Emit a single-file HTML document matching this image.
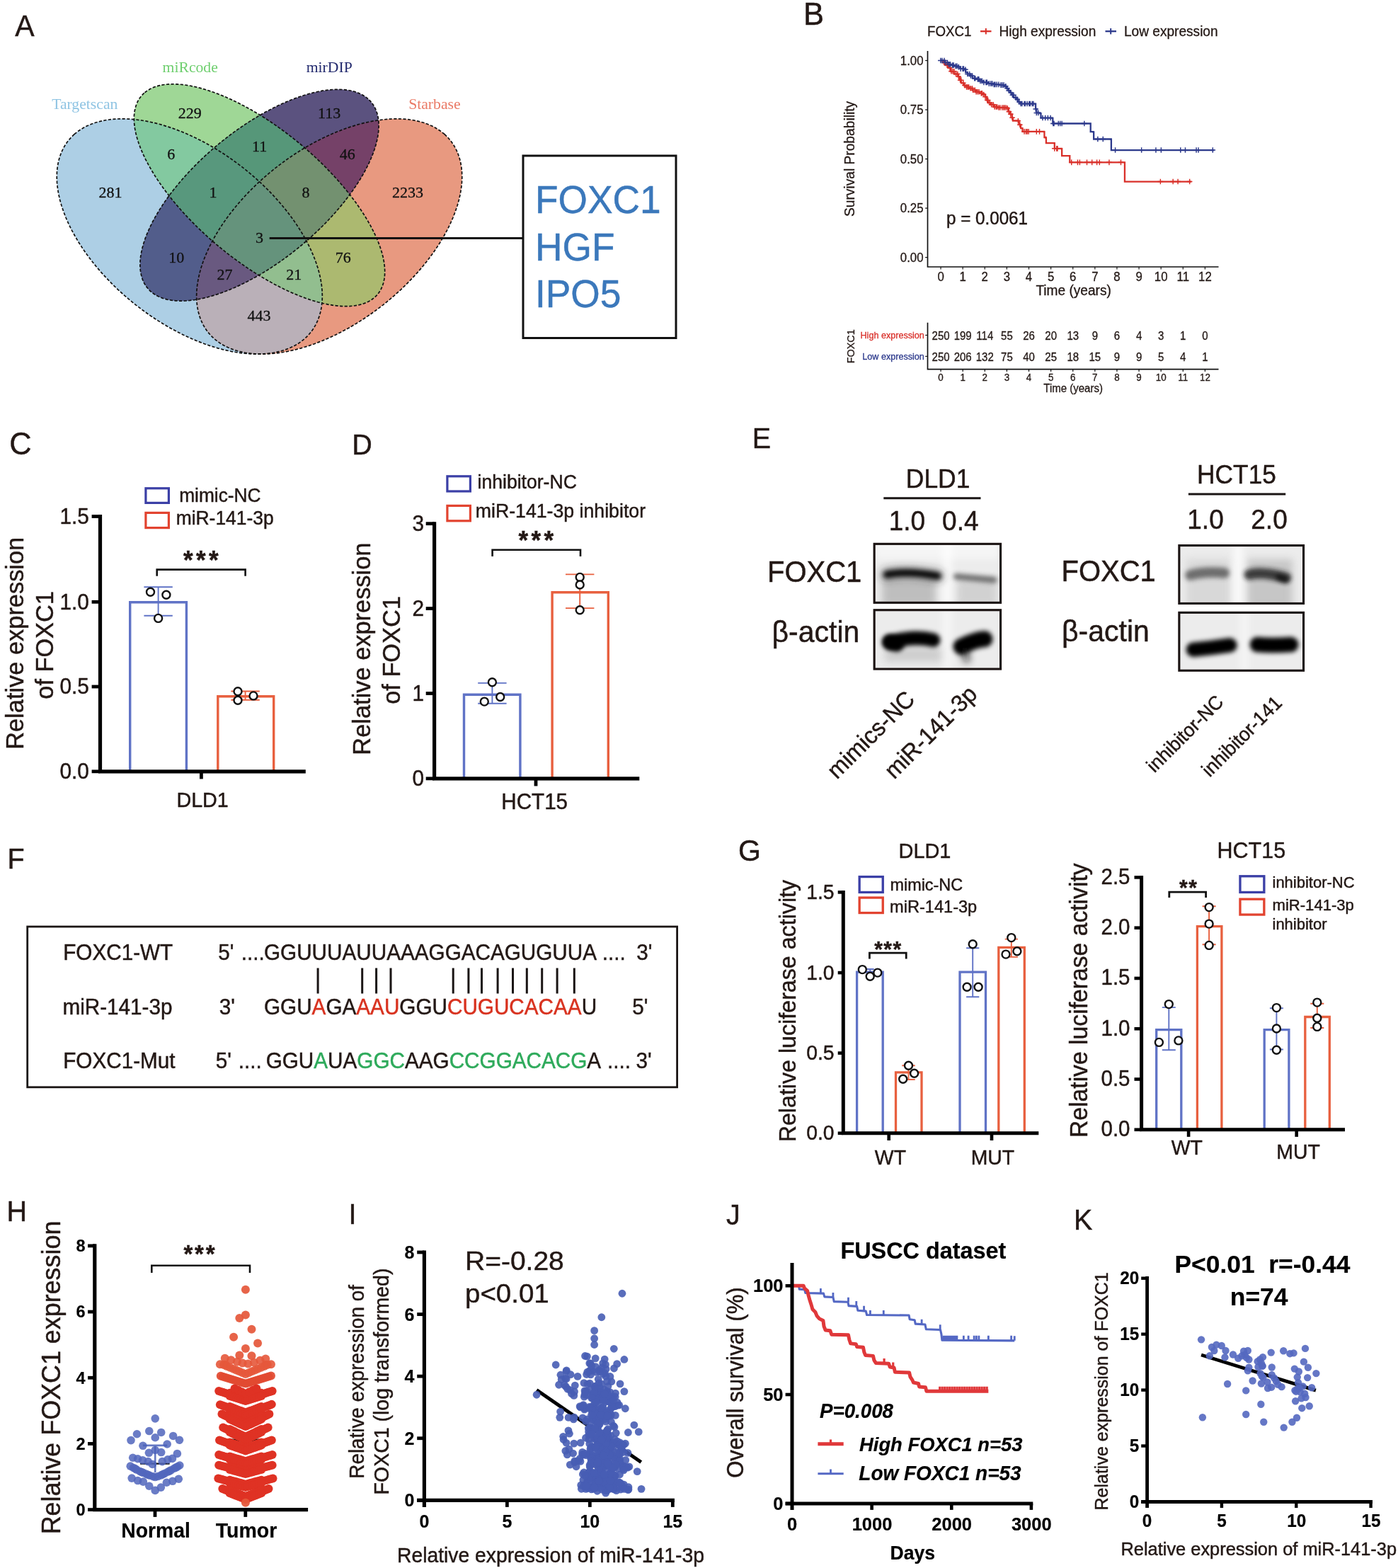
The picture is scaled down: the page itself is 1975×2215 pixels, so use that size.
<!DOCTYPE html>
<html lang="en">
<head>
<meta charset="utf-8">
<title>Figure: miR-141-3p targets FOXC1</title>
<style>
html,body{margin:0;padding:0;background:#fff;}
body{width:1975px;height:2215px;overflow:hidden;}
svg{display:block;font-family:"Liberation Sans",Arial,Helvetica,sans-serif;fill:#231815;}

</style>
</head>
<body>
<svg width="1975" height="2215" viewBox="0 0 1975 2215">
<rect x="0" y="0" width="1975" height="2215" fill="#ffffff" stroke="none"/>
<g id="p-a">
<text transform="translate(21.3 51.4) scale(1 1.04)" font-size="41" stroke="#231815" stroke-width="0.45">A</text>
<defs>
<path id="eT" d="M104.95 189.71L100.31 194.23L96.12 199.12L92.4 204.39L89.16 210.01L86.42 215.97L84.17 222.25L82.42 228.85L81.18 235.72L80.46 242.87L80.24 250.27L80.54 257.9L81.36 265.73L82.68 273.76L84.52 281.94L86.85 290.27L89.68 298.73L93 307.27L96.8 315.89L101.06 324.56L105.79 333.26L110.96 341.96L116.55 350.63L122.57 359.27L128.98 367.83L135.77 376.3L142.92 384.65L150.42 392.86L158.23 400.92L166.35 408.78L174.74 416.45L183.4 423.89L192.28 431.08L201.37 438L210.64 444.65L220.06 450.98L229.62 457L239.28 462.68L249.03 468.01L258.82 472.97L268.64 477.55L278.45 481.73L288.24 485.51L297.97 488.88L307.61 491.82L317.15 494.33L326.55 496.39L335.79 498.02L344.85 499.19L353.69 499.91L362.3 500.18L370.65 499.99L378.72 499.35L386.48 498.25L393.92 496.7L401.01 494.71L407.74 492.27L414.08 489.41L420.03 486.11L425.55 482.4L430.65 478.29L435.29 473.77L439.48 468.88L443.2 463.61L446.44 457.99L449.18 452.03L451.43 445.75L453.18 439.15L454.42 432.28L455.14 425.13L455.36 417.73L455.06 410.1L454.24 402.27L452.92 394.24L451.08 386.06L448.75 377.73L445.92 369.27L442.6 360.73L438.8 352.11L434.54 343.44L429.81 334.74L424.64 326.04L419.05 317.37L413.03 308.73L406.62 300.17L399.83 291.7L392.68 283.35L385.18 275.14L377.37 267.08L369.25 259.22L360.86 251.55L352.2 244.11L343.32 236.92L334.23 230L324.96 223.35L315.54 217.02L305.98 211L296.32 205.32L286.57 199.99L276.78 195.03L266.96 190.45L257.15 186.27L247.36 182.49L237.63 179.12L227.99 176.18L218.45 173.68L209.05 171.61L199.81 169.98L190.75 168.81L181.91 168.09L173.3 167.82L164.95 168.01L156.88 168.65L149.12 169.75L141.68 171.3L134.59 173.29L127.86 175.73L121.52 178.59L115.57 181.89L110.05 185.6Z"/>
<clipPath id="cT"><use href="#eT"/></clipPath>
<path id="eM" d="M203.65 131.41L200.22 134.85L197.25 138.67L194.74 142.86L192.7 147.42L191.14 152.34L190.06 157.59L189.46 163.16L189.35 169.04L189.72 175.21L190.57 181.66L191.91 188.37L193.73 195.32L196.02 202.48L198.78 209.85L202 217.4L205.67 225.11L209.78 232.95L214.32 240.92L219.28 248.98L224.64 257.11L230.38 265.29L236.51 273.5L242.99 281.72L249.8 289.92L256.94 298.09L264.38 306.19L272.09 314.2L280.07 322.12L288.28 329.9L296.71 337.54L305.33 345L314.11 352.28L323.04 359.35L332.09 366.18L341.23 372.77L350.45 379.1L359.7 385.14L368.98 390.88L378.25 396.3L387.48 401.39L396.66 406.14L405.76 410.54L414.74 414.56L423.6 418.2L432.3 421.45L440.82 424.3L449.13 426.75L457.22 428.78L465.06 430.39L472.63 431.57L479.91 432.33L486.88 432.66L493.52 432.56L499.81 432.03L505.73 431.07L511.28 429.69L516.42 427.88L521.16 425.66L525.47 423.02L529.35 419.99L532.78 416.55L535.75 412.73L538.26 408.54L540.3 403.98L541.86 399.06L542.94 393.81L543.54 388.24L543.65 382.36L543.28 376.19L542.43 369.74L541.09 363.03L539.27 356.08L536.98 348.92L534.22 341.55L531 334L527.33 326.29L523.22 318.45L518.68 310.48L513.72 302.42L508.36 294.29L502.62 286.11L496.49 277.9L490.01 269.68L483.2 261.48L476.06 253.31L468.62 245.21L460.91 237.2L452.93 229.28L444.72 221.5L436.29 213.86L427.67 206.4L418.89 199.12L409.96 192.05L400.91 185.22L391.77 178.63L382.55 172.3L373.3 166.26L364.02 160.52L354.75 155.1L345.52 150.01L336.34 145.26L327.24 140.86L318.26 136.84L309.4 133.2L300.7 129.95L292.18 127.1L283.87 124.65L275.78 122.62L267.94 121.01L260.37 119.83L253.09 119.07L246.12 118.74L239.48 118.84L233.19 119.37L227.27 120.33L221.72 121.71L216.58 123.52L211.84 125.74L207.53 128.38Z"/>
<clipPath id="cM"><use href="#eM"/></clipPath>
<path id="eD" d="M520.04 139.66L516.18 136.61L511.9 133.94L507.23 131.66L502.18 129.78L496.75 128.29L490.96 127.21L484.83 126.54L478.38 126.27L471.62 126.41L464.57 126.97L457.26 127.93L449.7 129.29L441.9 131.06L433.9 133.23L425.72 135.78L417.37 138.72L408.89 142.03L400.29 145.71L391.59 149.75L382.83 154.13L374.02 158.84L365.19 163.88L356.37 169.22L347.57 174.85L338.83 180.76L330.16 186.93L321.59 193.34L313.14 199.98L304.84 206.83L296.71 213.86L288.77 221.07L281.04 228.42L273.55 235.91L266.31 243.5L259.35 251.18L252.68 258.93L246.32 266.72L240.29 274.54L234.61 282.36L229.29 290.17L224.34 297.93L219.79 305.64L215.64 313.26L211.9 320.78L208.58 328.17L205.7 335.42L203.25 342.51L201.26 349.41L199.72 356.11L198.63 362.6L198.01 368.84L197.85 374.83L198.15 380.54L198.91 385.97L200.13 391.1L201.8 395.91L203.93 400.39L206.5 404.53L209.52 408.32L212.96 411.74L216.82 414.79L221.1 417.46L225.77 419.74L230.82 421.62L236.25 423.11L242.04 424.19L248.17 424.86L254.62 425.13L261.38 424.99L268.43 424.43L275.74 423.47L283.3 422.11L291.1 420.34L299.1 418.17L307.28 415.62L315.63 412.68L324.11 409.37L332.71 405.69L341.41 401.65L350.17 397.27L358.98 392.56L367.81 387.52L376.63 382.18L385.43 376.55L394.17 370.64L402.84 364.47L411.41 358.06L419.86 351.42L428.16 344.57L436.29 337.54L444.23 330.33L451.96 322.98L459.45 315.49L466.69 307.9L473.65 300.22L480.32 292.47L486.68 284.68L492.71 276.86L498.39 269.04L503.71 261.23L508.66 253.47L513.21 245.76L517.36 238.14L521.1 230.62L524.42 223.23L527.3 215.98L529.75 208.89L531.74 201.99L533.28 195.29L534.37 188.8L534.99 182.56L535.15 176.57L534.85 170.86L534.09 165.43L532.87 160.3L531.2 155.49L529.07 151.01L526.5 146.87L523.48 143.08Z"/>
<clipPath id="cD"><use href="#eD"/></clipPath>
<path id="eS" d="M628.05 189.71L622.95 185.6L617.43 181.89L611.48 178.59L605.14 175.73L598.41 173.29L591.32 171.3L583.88 169.75L576.12 168.65L568.05 168.01L559.7 167.82L551.09 168.09L542.25 168.81L533.19 169.98L523.95 171.61L514.55 173.67L505.01 176.18L495.37 179.12L485.64 182.49L475.85 186.27L466.04 190.45L456.22 195.03L446.43 199.99L436.68 205.32L427.02 211L417.46 217.02L408.04 223.35L398.77 230L389.68 236.92L380.8 244.11L372.14 251.55L363.75 259.22L355.63 267.08L347.82 275.14L340.32 283.35L333.17 291.7L326.38 300.17L319.97 308.73L313.95 317.37L308.36 326.04L303.19 334.74L298.46 343.44L294.2 352.11L290.4 360.73L287.08 369.27L284.25 377.72L281.92 386.06L280.08 394.24L278.76 402.27L277.94 410.1L277.64 417.73L277.86 425.13L278.58 432.28L279.82 439.15L281.57 445.75L283.82 452.03L286.56 457.99L289.8 463.61L293.52 468.88L297.71 473.77L302.35 478.29L307.45 482.4L312.97 486.11L318.92 489.41L325.26 492.27L331.99 494.71L339.08 496.7L346.52 498.25L354.28 499.35L362.35 499.99L370.7 500.18L379.31 499.91L388.15 499.19L397.21 498.02L406.45 496.39L415.85 494.33L425.39 491.82L435.03 488.88L444.76 485.51L454.55 481.73L464.36 477.55L474.18 472.97L483.97 468.01L493.72 462.68L503.38 457L512.94 450.98L522.36 444.65L531.63 438L540.72 431.08L549.6 423.89L558.26 416.45L566.65 408.78L574.77 400.92L582.58 392.86L590.08 384.65L597.23 376.3L604.02 367.83L610.43 359.27L616.45 350.63L622.04 341.96L627.21 333.26L631.94 324.56L636.2 315.89L640 307.27L643.32 298.73L646.15 290.28L648.48 281.94L650.32 273.76L651.64 265.73L652.46 257.9L652.76 250.27L652.54 242.87L651.82 235.72L650.58 228.85L648.83 222.25L646.58 215.97L643.84 210.01L640.6 204.39L636.88 199.12L632.69 194.23Z"/>
<clipPath id="cS"><use href="#eS"/></clipPath>
</defs>
<use href="#eT" fill="#adcfe5"/>
<use href="#eS" fill="#e89980"/>
<use href="#eM" fill="#9fd796"/>
<use href="#eD" fill="#5b527f"/>
<g clip-path="url(#cS)"><use href="#eT" fill="#bab0b8"/></g>
<g clip-path="url(#cM)"><use href="#eT" fill="#83c9a0"/></g>
<g clip-path="url(#cD)"><use href="#eT" fill="#525d8b"/></g>
<g clip-path="url(#cS)"><use href="#eM" fill="#acb970"/></g>
<g clip-path="url(#cS)"><use href="#eD" fill="#754168"/></g>
<g clip-path="url(#cD)"><use href="#eM" fill="#569779"/></g>
<g clip-path="url(#cS)"><g clip-path="url(#cM)"><use href="#eT" fill="#92be8f"/></g></g>
<g clip-path="url(#cS)"><g clip-path="url(#cD)"><use href="#eT" fill="#695980"/></g></g>
<g clip-path="url(#cD)"><g clip-path="url(#cM)"><use href="#eT" fill="#58987d"/></g></g>
<g clip-path="url(#cS)"><g clip-path="url(#cD)"><use href="#eM" fill="#739170"/></g></g>
<g clip-path="url(#cS)"><g clip-path="url(#cD)"><g clip-path="url(#cM)"><use href="#eT" fill="#65937c"/></g></g></g>
<use href="#eT" fill="none" stroke="#111" stroke-width="1.7" stroke-dasharray="4.2 2.4"/>
<use href="#eS" fill="none" stroke="#111" stroke-width="1.7" stroke-dasharray="4.2 2.4"/>
<use href="#eM" fill="none" stroke="#111" stroke-width="1.7" stroke-dasharray="4.2 2.4"/>
<use href="#eD" fill="none" stroke="#111" stroke-width="1.7" stroke-dasharray="4.2 2.4"/>
<g font-family='"Liberation Serif", "Times New Roman", serif' font-size="21.7" text-anchor="middle">
<text x="268.7" y="101.8" font-size="21.7" fill="#6fcf6f" font-family='"Liberation Serif", "Times New Roman", serif'>miRcode</text>
<text x="465.2" y="101.8" font-size="21.7" fill="#232a6e" font-family='"Liberation Serif", "Times New Roman", serif'>mirDIP</text>
<text x="119.8" y="153.8" font-size="21.7" fill="#8fc4e3" font-family='"Liberation Serif", "Times New Roman", serif'>Targetscan</text>
<text x="613.9" y="153.8" font-size="21.7" fill="#ea7a66" font-family='"Liberation Serif", "Times New Roman", serif'>Starbase</text>
</g>
<g font-family='"Liberation Serif", "Times New Roman", serif' text-anchor="middle" fill="#111">
<text x="268.2" y="166.8" font-size="22" stroke="#111" stroke-width="0.3">229</text>
<text x="465.1" y="166.8" font-size="22" stroke="#111" stroke-width="0.3">113</text>
<text x="241.8" y="225.2" font-size="22" stroke="#111" stroke-width="0.3">6</text>
<text x="366.6" y="213.6" font-size="22" stroke="#111" stroke-width="0.3">11</text>
<text x="490.8" y="225.2" font-size="22" stroke="#111" stroke-width="0.3">46</text>
<text x="156" y="278.6" font-size="22" stroke="#111" stroke-width="0.3">281</text>
<text x="300.9" y="278.6" font-size="22" stroke="#111" stroke-width="0.3">1</text>
<text x="432" y="278.6" font-size="22" stroke="#111" stroke-width="0.3">8</text>
<text x="575.9" y="278.6" font-size="22" stroke="#111" stroke-width="0.3">2233</text>
<text x="366.6" y="342.6" font-size="22" stroke="#111" stroke-width="0.3">3</text>
<text x="249.2" y="371.1" font-size="22" stroke="#111" stroke-width="0.3">10</text>
<text x="484.8" y="371.1" font-size="22" stroke="#111" stroke-width="0.3">76</text>
<text x="317.4" y="394.7" font-size="22" stroke="#111" stroke-width="0.3">27</text>
<text x="415.2" y="394.7" font-size="22" stroke="#111" stroke-width="0.3">21</text>
<text x="366" y="452.7" font-size="22" stroke="#111" stroke-width="0.3">443</text>
</g>
<line x1="380.7" y1="336.5" x2="739" y2="336.5" stroke="#111" stroke-width="3.2"/>
<rect x="739" y="220" width="216" height="257.5" fill="none" stroke="#111" stroke-width="3"/>
<text transform="translate(756 301) scale(1 1.04)" font-size="53.3" fill="#3b78bb" stroke="#3b78bb" stroke-width="0.45">FOXC1</text>
<text transform="translate(756 367.5) scale(1 1.04)" font-size="53.3" fill="#3b78bb" stroke="#3b78bb" stroke-width="0.45">HGF</text>
<text transform="translate(756 434) scale(1 1.04)" font-size="53.3" fill="#3b78bb" stroke="#3b78bb" stroke-width="0.45">IPO5</text>
</g>
<g id="p-b">
<text transform="translate(1135 35) scale(1 1.04)" font-size="43.5" stroke="#231815" stroke-width="0.45">B</text>
<text transform="translate(1310 51.4) scale(1 1.04)" font-size="18.7" stroke="#231815" stroke-width="0.3">FOXC1</text>
<line x1="1385" y1="44.2" x2="1400.5" y2="44.2" stroke="#d9302a" stroke-width="2.3"/>
<line x1="1392.8" y1="40" x2="1392.8" y2="48.4" stroke="#d9302a" stroke-width="2"/>
<text transform="translate(1411.5 51.4) scale(1 1.04)" font-size="19.1" stroke="#231815" stroke-width="0.3">High expression</text>
<line x1="1561.5" y1="44.2" x2="1577" y2="44.2" stroke="#2d3a8c" stroke-width="2.3"/>
<line x1="1569.2" y1="40" x2="1569.2" y2="48.4" stroke="#2d3a8c" stroke-width="2"/>
<text transform="translate(1588 51.4) scale(1 1.04)" font-size="19.1" stroke="#231815" stroke-width="0.3">Low expression</text>
<path d="M1310.5 71.9V377H1721.5" fill="none" stroke="#111" stroke-width="1.7"/>
<line x1="1307.1" y1="363.6" x2="1310.5" y2="363.6" stroke="#111" stroke-width="1.2"/>
<text transform="translate(1304.5 370) scale(1 1.1)" font-size="16.8" text-anchor="end" stroke="#231815" stroke-width="0.3">0.00</text>
<line x1="1307.1" y1="294.08" x2="1310.5" y2="294.08" stroke="#111" stroke-width="1.2"/>
<text transform="translate(1304.5 300.48) scale(1 1.1)" font-size="16.8" text-anchor="end" stroke="#231815" stroke-width="0.3">0.25</text>
<line x1="1307.1" y1="224.55" x2="1310.5" y2="224.55" stroke="#111" stroke-width="1.2"/>
<text transform="translate(1304.5 230.95) scale(1 1.1)" font-size="16.8" text-anchor="end" stroke="#231815" stroke-width="0.3">0.50</text>
<line x1="1307.1" y1="155.03" x2="1310.5" y2="155.03" stroke="#111" stroke-width="1.2"/>
<text transform="translate(1304.5 161.43) scale(1 1.1)" font-size="16.8" text-anchor="end" stroke="#231815" stroke-width="0.3">0.75</text>
<line x1="1307.1" y1="85.5" x2="1310.5" y2="85.5" stroke="#111" stroke-width="1.2"/>
<text transform="translate(1304.5 91.9) scale(1 1.1)" font-size="16.8" text-anchor="end" stroke="#231815" stroke-width="0.3">1.00</text>
<line x1="1329.07" y1="377" x2="1329.07" y2="380.6" stroke="#111" stroke-width="1.2"/>
<text transform="translate(1329.07 397) scale(1 1.1)" font-size="16.8" text-anchor="middle" stroke="#231815" stroke-width="0.3">0</text>
<line x1="1360.18" y1="377" x2="1360.18" y2="380.6" stroke="#111" stroke-width="1.2"/>
<text transform="translate(1360.18 397) scale(1 1.1)" font-size="16.8" text-anchor="middle" stroke="#231815" stroke-width="0.3">1</text>
<line x1="1391.29" y1="377" x2="1391.29" y2="380.6" stroke="#111" stroke-width="1.2"/>
<text transform="translate(1391.29 397) scale(1 1.1)" font-size="16.8" text-anchor="middle" stroke="#231815" stroke-width="0.3">2</text>
<line x1="1422.4" y1="377" x2="1422.4" y2="380.6" stroke="#111" stroke-width="1.2"/>
<text transform="translate(1422.4 397) scale(1 1.1)" font-size="16.8" text-anchor="middle" stroke="#231815" stroke-width="0.3">3</text>
<line x1="1453.51" y1="377" x2="1453.51" y2="380.6" stroke="#111" stroke-width="1.2"/>
<text transform="translate(1453.51 397) scale(1 1.1)" font-size="16.8" text-anchor="middle" stroke="#231815" stroke-width="0.3">4</text>
<line x1="1484.62" y1="377" x2="1484.62" y2="380.6" stroke="#111" stroke-width="1.2"/>
<text transform="translate(1484.62 397) scale(1 1.1)" font-size="16.8" text-anchor="middle" stroke="#231815" stroke-width="0.3">5</text>
<line x1="1515.73" y1="377" x2="1515.73" y2="380.6" stroke="#111" stroke-width="1.2"/>
<text transform="translate(1515.73 397) scale(1 1.1)" font-size="16.8" text-anchor="middle" stroke="#231815" stroke-width="0.3">6</text>
<line x1="1546.84" y1="377" x2="1546.84" y2="380.6" stroke="#111" stroke-width="1.2"/>
<text transform="translate(1546.84 397) scale(1 1.1)" font-size="16.8" text-anchor="middle" stroke="#231815" stroke-width="0.3">7</text>
<line x1="1577.95" y1="377" x2="1577.95" y2="380.6" stroke="#111" stroke-width="1.2"/>
<text transform="translate(1577.95 397) scale(1 1.1)" font-size="16.8" text-anchor="middle" stroke="#231815" stroke-width="0.3">8</text>
<line x1="1609.06" y1="377" x2="1609.06" y2="380.6" stroke="#111" stroke-width="1.2"/>
<text transform="translate(1609.06 397) scale(1 1.1)" font-size="16.8" text-anchor="middle" stroke="#231815" stroke-width="0.3">9</text>
<line x1="1640.17" y1="377" x2="1640.17" y2="380.6" stroke="#111" stroke-width="1.2"/>
<text transform="translate(1640.17 397) scale(1 1.1)" font-size="16.8" text-anchor="middle" stroke="#231815" stroke-width="0.3">10</text>
<line x1="1671.28" y1="377" x2="1671.28" y2="380.6" stroke="#111" stroke-width="1.2"/>
<text transform="translate(1671.28 397) scale(1 1.1)" font-size="16.8" text-anchor="middle" stroke="#231815" stroke-width="0.3">11</text>
<line x1="1702.39" y1="377" x2="1702.39" y2="380.6" stroke="#111" stroke-width="1.2"/>
<text transform="translate(1702.39 397) scale(1 1.1)" font-size="16.8" text-anchor="middle" stroke="#231815" stroke-width="0.3">12</text>
<text transform="translate(1516.6 417.3) scale(1 1.04)" font-size="19.1" text-anchor="middle" stroke="#231815" stroke-width="0.3">Time (years)</text>
<text transform="translate(1207.2 224.5) rotate(-90) scale(1 1.04)" font-size="19.2" text-anchor="middle" stroke="#231815" stroke-width="0.3">Survival Probability</text>
<text transform="translate(1337 317.1) scale(1 1.04)" font-size="24.2" stroke="#231815" stroke-width="0.45">p = 0.0061</text>
<path d="M1329.07 85.47H1332.53V88.43H1335.74V92.14H1339.45V95.85H1343.16V100.8H1348.1V104.51H1353.05V108.21H1355.52V113.16H1357.99V117.36H1361.7V120.58H1365.41V123.05H1369.12V124.78H1374.07V127.25H1379.01V129.73H1383.96V131.7H1388.9V133.43H1391.87V136.65H1393.85V141.59H1396.32V145.3H1400.03V147.77H1403.74V150.99H1408.68V151.98H1422.28V152.72H1424.75V157.66H1427.23V161.37H1429.7V166.32H1430.93V170.52H1438.35V170.77H1439.59V176.21H1442.06V181.15H1444.53V185.85H1474.95V186.1H1475.44V194.01H1477.42V194.75H1477.91V202.17H1489.04V202.17H1489.78V209.84H1499.67V210.08H1500.16V220.22H1510.8V220.22H1511.29V229.37H1588.43V229.37H1588.93V256.57H1683.13V256.57" fill="none" stroke="#d9302a" stroke-width="2.3" stroke-linejoin="miter"/>
<path d="M1329.07 85.47H1333.27V85.47H1334.51V88.43H1339.45V90.91H1343.16V92.14H1348.1V93.38H1353.05V94.62H1356.76V97.09H1361.7V98.32H1364.18V102.03H1366.65V104.51H1370.36V106.98H1374.07V110.69H1379.01V111.92H1383.96V114.4H1388.9V116.37H1396.32V118.1H1403.74V119.34H1411.15V120.08H1418.57V121.81H1422.28V124.78H1424.75V127.99H1427.23V130.96H1429.7V134.18H1432.17V137.88H1435.88V140.36H1438.35V144.07H1442.06V146.54H1462.58V146.54H1463.08V153.96H1464.31V159.4H1469.26V160.14H1470.49V166.57H1486.57V166.81H1487.31V174.48H1540.22V174.48H1540.71V186.1H1544.67V186.59H1545.16V196.48H1569.4V196.73H1569.89V212.06H1715.27V212.06" fill="none" stroke="#2d3a8c" stroke-width="2.3" stroke-linejoin="miter"/>
<path d="M1329.86 88.43h7.6M1333.66 84.63v7.6M1331.68 88.43h7.6M1335.48 84.63v7.6M1334.23 92.14h7.6M1338.03 88.34v7.6M1335.5 92.14h7.6M1339.3 88.34v7.6M1338.17 95.85h7.6M1341.97 92.05v7.6M1340.12 100.8h7.6M1343.92 97v7.6M1342.2 100.8h7.6M1346 97v7.6M1344.12 100.8h7.6M1347.92 97v7.6M1346.79 104.51h7.6M1350.59 100.71v7.6M1349.04 104.51h7.6M1352.84 100.71v7.6M1350.45 108.21h7.6M1354.25 104.41v7.6M1352.83 113.16h7.6M1356.63 109.36v7.6M1354.04 113.16h7.6M1357.84 109.36v7.6M1357.09 117.36h7.6M1360.89 113.56v7.6M1359.11 120.58h7.6M1362.91 116.78v7.6M1361.73 123.05h7.6M1365.53 119.25v7.6M1363.57 123.05h7.6M1367.37 119.25v7.6M1364.88 123.05h7.6M1368.68 119.25v7.6M1367.13 124.78h7.6M1370.93 120.98v7.6M1369.65 124.78h7.6M1373.45 120.98v7.6M1370.79 127.25h7.6M1374.59 123.45v7.6M1373.55 127.25h7.6M1377.35 123.45v7.6M1375.21 129.73h7.6M1379.01 125.93v7.6M1377.24 129.73h7.6M1381.04 125.93v7.6M1379.25 129.73h7.6M1383.05 125.93v7.6M1382.41 131.7h7.6M1386.21 127.9v7.6M1383.56 131.7h7.6M1387.36 127.9v7.6M1385.84 133.43h7.6M1389.64 129.63v7.6M1388.15 136.65h7.6M1391.95 132.85v7.6M1390.97 141.59h7.6M1394.77 137.79v7.6M1391.9 141.59h7.6M1395.7 137.79v7.6M1394.54 145.3h7.6M1398.34 141.5v7.6M1396.8 147.77h7.6M1400.6 143.97v7.6M1399.39 147.77h7.6M1403.19 143.97v7.6M1401.4 150.99h7.6M1405.2 147.19v7.6M1403.57 150.99h7.6M1407.37 147.19v7.6M1404.8 150.99h7.6M1408.6 147.19v7.6M1407.1 151.98h7.6M1410.9 148.18v7.6M1409.12 151.98h7.6M1412.92 148.18v7.6M1412 151.98h7.6M1415.8 148.18v7.6M1414.21 151.98h7.6M1418.01 148.18v7.6M1415.12 151.98h7.6M1418.92 148.18v7.6M1417.26 151.98h7.6M1421.06 148.18v7.6M1419.44 152.72h7.6M1423.24 148.92v7.6M1421.55 157.66h7.6M1425.35 153.86v7.6M1424.02 161.37h7.6M1427.82 157.57v7.6M1426.28 166.32h7.6M1430.08 162.52v7.6M1434.55 170.77h7.6M1438.35 166.97v7.6M1437.02 176.21h7.6M1440.82 172.41v7.6M1443.21 185.85h7.6M1447.01 182.05v7.6M1445.68 185.85h7.6M1449.48 182.05v7.6M1447.41 185.85h7.6M1451.21 182.05v7.6M1449.39 185.85h7.6M1453.19 182.05v7.6M1460.51 185.85h7.6M1464.31 182.05v7.6M1464.72 185.85h7.6M1468.52 182.05v7.6M1485.98 209.84h7.6M1489.78 206.04v7.6M1488.95 209.84h7.6M1492.75 206.04v7.6M1490.18 209.84h7.6M1493.98 206.04v7.6M1509.96 229.37h7.6M1513.76 225.57v7.6M1518.62 229.37h7.6M1522.42 225.57v7.6M1521.58 229.37h7.6M1525.38 225.57v7.6M1531.72 229.37h7.6M1535.52 225.57v7.6M1538.89 229.37h7.6M1542.69 225.57v7.6M1545.82 229.37h7.6M1549.62 225.57v7.6M1549.52 229.37h7.6M1553.32 225.57v7.6M1563.12 229.37h7.6M1566.92 225.57v7.6M1579.69 229.37h7.6M1583.49 225.57v7.6M1635.57 256.57h7.6M1639.37 252.77v7.6M1653.37 256.57h7.6M1657.17 252.77v7.6M1660.29 256.57h7.6M1664.09 252.77v7.6M1676.86 256.57h7.6M1680.66 252.77v7.6" fill="none" stroke="#d9302a" stroke-width="1.5"/>
<path d="M1325 85.47h7.6M1328.8 81.67v7.6M1327.1 85.47h7.6M1330.9 81.67v7.6M1330.19 85.47h7.6M1333.99 81.67v7.6M1331.68 88.43h7.6M1335.48 84.63v7.6M1334.71 88.43h7.6M1338.51 84.63v7.6M1336.81 90.91h7.6M1340.61 87.11v7.6M1338.7 90.91h7.6M1342.5 87.11v7.6M1341.72 92.14h7.6M1345.52 88.34v7.6M1343.37 92.14h7.6M1347.17 88.34v7.6M1346.31 93.38h7.6M1350.11 89.58v7.6M1348.12 93.38h7.6M1351.92 89.58v7.6M1350.5 94.62h7.6M1354.3 90.82v7.6M1353.34 97.09h7.6M1357.14 93.29v7.6M1356.29 97.09h7.6M1360.09 93.29v7.6M1357.59 97.09h7.6M1361.39 93.29v7.6M1360.09 98.32h7.6M1363.89 94.52v7.6M1363.04 104.51h7.6M1366.84 100.71v7.6M1365.86 104.51h7.6M1369.66 100.71v7.6M1367.66 106.98h7.6M1371.46 103.18v7.6M1369.74 106.98h7.6M1373.54 103.18v7.6M1372.95 110.69h7.6M1376.75 106.89v7.6M1373.92 110.69h7.6M1377.72 106.89v7.6M1377.47 111.92h7.6M1381.27 108.12v7.6M1378.98 111.92h7.6M1382.78 108.12v7.6M1381.11 114.4h7.6M1384.91 110.6v7.6M1383.42 114.4h7.6M1387.22 110.6v7.6M1386.05 116.37h7.6M1389.85 112.57v7.6M1389.16 116.37h7.6M1392.96 112.57v7.6M1390.56 116.37h7.6M1394.36 112.57v7.6M1393.51 118.1h7.6M1397.31 114.3v7.6M1395.94 118.1h7.6M1399.74 114.3v7.6M1397.89 118.1h7.6M1401.69 114.3v7.6M1400.5 119.34h7.6M1404.3 115.54v7.6M1402.13 119.34h7.6M1405.93 115.54v7.6M1404.48 119.34h7.6M1408.28 115.54v7.6M1407.04 119.34h7.6M1410.84 115.54v7.6M1410.09 120.08h7.6M1413.89 116.28v7.6M1412.07 120.08h7.6M1415.87 116.28v7.6M1414.25 120.08h7.6M1418.05 116.28v7.6M1417 121.81h7.6M1420.8 118.01v7.6M1419.15 124.78h7.6M1422.95 120.98v7.6M1421.27 127.99h7.6M1425.07 124.19v7.6M1424.36 130.96h7.6M1428.16 127.16v7.6M1426.56 134.18h7.6M1430.36 130.38v7.6M1428.24 134.18h7.6M1432.04 130.38v7.6M1431.08 137.88h7.6M1434.88 134.08v7.6M1433.35 140.36h7.6M1437.15 136.56v7.6M1436.22 144.07h7.6M1440.02 140.27v7.6M1438.35 146.54h7.6M1442.15 142.74v7.6M1440.05 146.54h7.6M1443.85 142.74v7.6M1443.42 146.54h7.6M1447.22 142.74v7.6M1444.49 146.54h7.6M1448.29 142.74v7.6M1447.29 146.54h7.6M1451.09 142.74v7.6M1450.14 146.54h7.6M1453.94 142.74v7.6M1451.59 146.54h7.6M1455.39 142.74v7.6M1454.44 146.54h7.6M1458.24 142.74v7.6M1456.12 146.54h7.6M1459.92 142.74v7.6M1459.4 153.96h7.6M1463.2 150.16v7.6M1460.51 159.4h7.6M1464.31 155.6v7.6M1462.99 159.4h7.6M1466.79 155.6v7.6M1469.17 166.57h7.6M1472.97 162.77v7.6M1472.88 166.57h7.6M1476.68 162.77v7.6M1476.58 166.57h7.6M1480.38 162.77v7.6M1480.29 166.57h7.6M1484.09 162.77v7.6M1484 174.48h7.6M1487.8 170.68v7.6M1485.24 174.48h7.6M1489.04 170.68v7.6M1491.42 174.48h7.6M1495.22 170.68v7.6M1493.89 174.48h7.6M1497.69 170.68v7.6M1496.36 174.48h7.6M1500.16 170.68v7.6M1528.01 174.48h7.6M1531.81 170.68v7.6M1547.05 196.48h7.6M1550.85 192.68v7.6M1554.47 196.48h7.6M1558.27 192.68v7.6M1571.78 212.06h7.6M1575.58 208.26v7.6M1608.86 212.06h7.6M1612.66 208.26v7.6M1629.14 212.06h7.6M1632.94 208.26v7.6M1636.56 212.06h7.6M1640.36 208.26v7.6M1664 212.06h7.6M1667.8 208.26v7.6M1670.68 212.06h7.6M1674.48 208.26v7.6M1686.25 212.06h7.6M1690.05 208.26v7.6M1689.22 212.06h7.6M1693.02 208.26v7.6M1709.5 212.06h7.6M1713.3 208.26v7.6" fill="none" stroke="#2d3a8c" stroke-width="1.5"/>
<path d="M1310.5 455.8V521.6H1721.5" fill="none" stroke="#111" stroke-width="1.7"/>
<text transform="translate(1329.07 479.6) scale(1 1.04)" font-size="15" text-anchor="middle" stroke="#231815" stroke-width="0.3">250</text>
<text transform="translate(1329.07 509.5) scale(1 1.04)" font-size="15" text-anchor="middle" stroke="#231815" stroke-width="0.3">250</text>
<line x1="1329.07" y1="521.6" x2="1329.07" y2="525" stroke="#111" stroke-width="1.2"/>
<text transform="translate(1329.07 537.6) scale(1 1.04)" font-size="13.4" text-anchor="middle" stroke="#231815" stroke-width="0.3">0</text>
<text transform="translate(1360.18 479.6) scale(1 1.04)" font-size="15" text-anchor="middle" stroke="#231815" stroke-width="0.3">199</text>
<text transform="translate(1360.18 509.5) scale(1 1.04)" font-size="15" text-anchor="middle" stroke="#231815" stroke-width="0.3">206</text>
<line x1="1360.18" y1="521.6" x2="1360.18" y2="525" stroke="#111" stroke-width="1.2"/>
<text transform="translate(1360.18 537.6) scale(1 1.04)" font-size="13.4" text-anchor="middle" stroke="#231815" stroke-width="0.3">1</text>
<text transform="translate(1391.29 479.6) scale(1 1.04)" font-size="15" text-anchor="middle" stroke="#231815" stroke-width="0.3">114</text>
<text transform="translate(1391.29 509.5) scale(1 1.04)" font-size="15" text-anchor="middle" stroke="#231815" stroke-width="0.3">132</text>
<line x1="1391.29" y1="521.6" x2="1391.29" y2="525" stroke="#111" stroke-width="1.2"/>
<text transform="translate(1391.29 537.6) scale(1 1.04)" font-size="13.4" text-anchor="middle" stroke="#231815" stroke-width="0.3">2</text>
<text transform="translate(1422.4 479.6) scale(1 1.04)" font-size="15" text-anchor="middle" stroke="#231815" stroke-width="0.3">55</text>
<text transform="translate(1422.4 509.5) scale(1 1.04)" font-size="15" text-anchor="middle" stroke="#231815" stroke-width="0.3">75</text>
<line x1="1422.4" y1="521.6" x2="1422.4" y2="525" stroke="#111" stroke-width="1.2"/>
<text transform="translate(1422.4 537.6) scale(1 1.04)" font-size="13.4" text-anchor="middle" stroke="#231815" stroke-width="0.3">3</text>
<text transform="translate(1453.51 479.6) scale(1 1.04)" font-size="15" text-anchor="middle" stroke="#231815" stroke-width="0.3">26</text>
<text transform="translate(1453.51 509.5) scale(1 1.04)" font-size="15" text-anchor="middle" stroke="#231815" stroke-width="0.3">40</text>
<line x1="1453.51" y1="521.6" x2="1453.51" y2="525" stroke="#111" stroke-width="1.2"/>
<text transform="translate(1453.51 537.6) scale(1 1.04)" font-size="13.4" text-anchor="middle" stroke="#231815" stroke-width="0.3">4</text>
<text transform="translate(1484.62 479.6) scale(1 1.04)" font-size="15" text-anchor="middle" stroke="#231815" stroke-width="0.3">20</text>
<text transform="translate(1484.62 509.5) scale(1 1.04)" font-size="15" text-anchor="middle" stroke="#231815" stroke-width="0.3">25</text>
<line x1="1484.62" y1="521.6" x2="1484.62" y2="525" stroke="#111" stroke-width="1.2"/>
<text transform="translate(1484.62 537.6) scale(1 1.04)" font-size="13.4" text-anchor="middle" stroke="#231815" stroke-width="0.3">5</text>
<text transform="translate(1515.73 479.6) scale(1 1.04)" font-size="15" text-anchor="middle" stroke="#231815" stroke-width="0.3">13</text>
<text transform="translate(1515.73 509.5) scale(1 1.04)" font-size="15" text-anchor="middle" stroke="#231815" stroke-width="0.3">18</text>
<line x1="1515.73" y1="521.6" x2="1515.73" y2="525" stroke="#111" stroke-width="1.2"/>
<text transform="translate(1515.73 537.6) scale(1 1.04)" font-size="13.4" text-anchor="middle" stroke="#231815" stroke-width="0.3">6</text>
<text transform="translate(1546.84 479.6) scale(1 1.04)" font-size="15" text-anchor="middle" stroke="#231815" stroke-width="0.3">9</text>
<text transform="translate(1546.84 509.5) scale(1 1.04)" font-size="15" text-anchor="middle" stroke="#231815" stroke-width="0.3">15</text>
<line x1="1546.84" y1="521.6" x2="1546.84" y2="525" stroke="#111" stroke-width="1.2"/>
<text transform="translate(1546.84 537.6) scale(1 1.04)" font-size="13.4" text-anchor="middle" stroke="#231815" stroke-width="0.3">7</text>
<text transform="translate(1577.95 479.6) scale(1 1.04)" font-size="15" text-anchor="middle" stroke="#231815" stroke-width="0.3">6</text>
<text transform="translate(1577.95 509.5) scale(1 1.04)" font-size="15" text-anchor="middle" stroke="#231815" stroke-width="0.3">9</text>
<line x1="1577.95" y1="521.6" x2="1577.95" y2="525" stroke="#111" stroke-width="1.2"/>
<text transform="translate(1577.95 537.6) scale(1 1.04)" font-size="13.4" text-anchor="middle" stroke="#231815" stroke-width="0.3">8</text>
<text transform="translate(1609.06 479.6) scale(1 1.04)" font-size="15" text-anchor="middle" stroke="#231815" stroke-width="0.3">4</text>
<text transform="translate(1609.06 509.5) scale(1 1.04)" font-size="15" text-anchor="middle" stroke="#231815" stroke-width="0.3">9</text>
<line x1="1609.06" y1="521.6" x2="1609.06" y2="525" stroke="#111" stroke-width="1.2"/>
<text transform="translate(1609.06 537.6) scale(1 1.04)" font-size="13.4" text-anchor="middle" stroke="#231815" stroke-width="0.3">9</text>
<text transform="translate(1640.17 479.6) scale(1 1.04)" font-size="15" text-anchor="middle" stroke="#231815" stroke-width="0.3">3</text>
<text transform="translate(1640.17 509.5) scale(1 1.04)" font-size="15" text-anchor="middle" stroke="#231815" stroke-width="0.3">5</text>
<line x1="1640.17" y1="521.6" x2="1640.17" y2="525" stroke="#111" stroke-width="1.2"/>
<text transform="translate(1640.17 537.6) scale(1 1.04)" font-size="13.4" text-anchor="middle" stroke="#231815" stroke-width="0.3">10</text>
<text transform="translate(1671.28 479.6) scale(1 1.04)" font-size="15" text-anchor="middle" stroke="#231815" stroke-width="0.3">1</text>
<text transform="translate(1671.28 509.5) scale(1 1.04)" font-size="15" text-anchor="middle" stroke="#231815" stroke-width="0.3">4</text>
<line x1="1671.28" y1="521.6" x2="1671.28" y2="525" stroke="#111" stroke-width="1.2"/>
<text transform="translate(1671.28 537.6) scale(1 1.04)" font-size="13.4" text-anchor="middle" stroke="#231815" stroke-width="0.3">11</text>
<text transform="translate(1702.39 479.6) scale(1 1.04)" font-size="15" text-anchor="middle" stroke="#231815" stroke-width="0.3">0</text>
<text transform="translate(1702.39 509.5) scale(1 1.04)" font-size="15" text-anchor="middle" stroke="#231815" stroke-width="0.3">1</text>
<line x1="1702.39" y1="521.6" x2="1702.39" y2="525" stroke="#111" stroke-width="1.2"/>
<text transform="translate(1702.39 537.6) scale(1 1.04)" font-size="13.4" text-anchor="middle" stroke="#231815" stroke-width="0.3">12</text>
<text transform="translate(1305.8 478.3) scale(1 1.04)" font-size="12.6" text-anchor="end" fill="#d9302a" stroke="#d9302a" stroke-width="0.3">High expression</text>
<text transform="translate(1305.8 508.1) scale(1 1.04)" font-size="12.6" text-anchor="end" fill="#2d3a8c" stroke="#2d3a8c" stroke-width="0.3">Low expression</text>
<line x1="1307.1" y1="473.5" x2="1310.5" y2="473.5" stroke="#111" stroke-width="1.1"/>
<line x1="1307.1" y1="503.4" x2="1310.5" y2="503.4" stroke="#111" stroke-width="1.1"/>
<text transform="translate(1206.8 489.3) rotate(-90) scale(1 1.04)" font-size="14.4" text-anchor="middle" stroke="#231815" stroke-width="0.3">FOXC1</text>
<text transform="translate(1516.1 553.7) scale(1 1.04)" font-size="15" text-anchor="middle" stroke="#231815" stroke-width="0.3">Time (years)</text>
</g>
<g id="p-c">
<text transform="translate(13.2 641.6) scale(1 1.04)" font-size="43.5" stroke="#231815" stroke-width="0.45">C</text>
<path d="M183.7 1089.8V850.7H263.4V1089.8" fill="none" stroke="#6073c6" stroke-width="3.4" stroke-linejoin="miter"/>
<path d="M307.8 1089.8V983.8H386.7V1089.8" fill="none" stroke="#e8603f" stroke-width="3.4" stroke-linejoin="miter"/>
<path d="M203.4 829.2H243.8M203.4 869.7H243.8M223.6 829.2V869.7" fill="none" stroke="#6073c6" stroke-width="1.9"/>
<path d="M326.4 976.5H366.8M326.4 988.7H366.8M346.6 976.5V988.7" fill="none" stroke="#e8603f" stroke-width="1.9"/>
<circle cx="212.5" cy="836.3" r="5.5" fill="#fff" stroke="#111" stroke-width="2.4"/><circle cx="234.9" cy="840.3" r="5.5" fill="#fff" stroke="#111" stroke-width="2.4"/><circle cx="223.6" cy="873.4" r="5.5" fill="#fff" stroke="#111" stroke-width="2.4"/>
<circle cx="336" cy="976.8" r="5.5" fill="#fff" stroke="#111" stroke-width="2.4"/><circle cx="336" cy="989.2" r="5.5" fill="#fff" stroke="#111" stroke-width="2.4"/><circle cx="358" cy="982.9" r="5.5" fill="#fff" stroke="#111" stroke-width="2.4"/>
<path d="M141.5 727V1092.4M138.9 1089.8H431.8" fill="none" stroke="#000" stroke-width="5.2"/>
<line x1="129.6" y1="729.5" x2="141.5" y2="729.5" stroke="#000" stroke-width="4.8"/>
<text transform="translate(125.9 739.9) scale(1 1.08)" font-size="29.8" text-anchor="end" stroke="#231815" stroke-width="0.45">1.5</text>
<line x1="129.6" y1="850.3" x2="141.5" y2="850.3" stroke="#000" stroke-width="4.8"/>
<text transform="translate(125.9 860.7) scale(1 1.08)" font-size="29.8" text-anchor="end" stroke="#231815" stroke-width="0.45">1.0</text>
<line x1="129.6" y1="970" x2="141.5" y2="970" stroke="#000" stroke-width="4.8"/>
<text transform="translate(125.9 980.4) scale(1 1.08)" font-size="29.8" text-anchor="end" stroke="#231815" stroke-width="0.45">0.5</text>
<line x1="129.6" y1="1089.8" x2="141.5" y2="1089.8" stroke="#000" stroke-width="4.8"/>
<text transform="translate(125.9 1100.2) scale(1 1.08)" font-size="29.8" text-anchor="end" stroke="#231815" stroke-width="0.45">0.0</text>
<line x1="284.4" y1="1089.8" x2="284.4" y2="1100.4" stroke="#000" stroke-width="4.8"/>
<text transform="translate(286.1 1140) scale(1 1.04)" font-size="28.7" text-anchor="middle" stroke="#231815" stroke-width="0.45">DLD1</text>
<text transform="translate(33.1 908.8) rotate(-90) scale(1 1.04)" font-size="34.4" text-anchor="middle" stroke="#231815" stroke-width="0.45">Relative expression</text>
<text transform="translate(74.9 911.4) rotate(-90) scale(1 1.04)" font-size="34.3" text-anchor="middle" stroke="#231815" stroke-width="0.45">of FOXC1</text>
<rect x="205.9" y="689.8" width="32.5" height="20.6" fill="none" stroke="#3b3fa6" stroke-width="3.2"/>
<rect x="205.9" y="724.4" width="32.5" height="21.2" fill="none" stroke="#e2432f" stroke-width="3.2"/>
<text transform="translate(253.2 709.3) scale(1 1.04)" font-size="26.3" stroke="#231815" stroke-width="0.45">mimic-NC</text>
<text transform="translate(248.7 740.5) scale(1 1.04)" font-size="26.4" stroke="#231815" stroke-width="0.45">miR-141-3p</text>
<path d="M221.7 813.8V804.6H346.6V813.8" fill="none" stroke="#111" stroke-width="2.6" stroke-linejoin="miter"/>
<text transform="translate(286.1 803.6) scale(1 1.04)" font-size="35" text-anchor="middle" font-weight="bold" stroke="#231815" stroke-width="0.45" letter-spacing="4.4">***</text>
</g>
<g id="p-d">
<text transform="translate(497.3 641.6) scale(1 1.04)" font-size="39.5" stroke="#231815" stroke-width="0.45">D</text>
<path d="M655.5 1099.8V981.2H734.9V1099.8" fill="none" stroke="#6073c6" stroke-width="3.4" stroke-linejoin="miter"/>
<path d="M780.1 1099.8V836.7H859.3V1099.8" fill="none" stroke="#e8603f" stroke-width="3.4" stroke-linejoin="miter"/>
<path d="M675.2 964.9H715.6M675.2 993.7H715.6M695.4 964.9V993.7" fill="none" stroke="#6073c6" stroke-width="1.9"/>
<path d="M799 811.4H839.4M799 859.1H839.4M819.2 811.4V859.1" fill="none" stroke="#e8603f" stroke-width="1.9"/>
<circle cx="695.4" cy="963.8" r="5.5" fill="#fff" stroke="#111" stroke-width="2.4"/><circle cx="706.7" cy="984.5" r="5.5" fill="#fff" stroke="#111" stroke-width="2.4"/><circle cx="684.3" cy="991.1" r="5.5" fill="#fff" stroke="#111" stroke-width="2.4"/>
<circle cx="819.2" cy="815.4" r="5.5" fill="#fff" stroke="#111" stroke-width="2.4"/><circle cx="819.2" cy="826" r="5.5" fill="#fff" stroke="#111" stroke-width="2.4"/><circle cx="819.2" cy="861.7" r="5.5" fill="#fff" stroke="#111" stroke-width="2.4"/>
<path d="M613.6 737.2V1102.4M611 1099.8H903.3" fill="none" stroke="#000" stroke-width="5.2"/>
<line x1="601.7" y1="739.7" x2="613.6" y2="739.7" stroke="#000" stroke-width="4.8"/>
<text transform="translate(599 749.9) scale(1 1.08)" font-size="29.8" text-anchor="end" stroke="#231815" stroke-width="0.45">3</text>
<line x1="601.7" y1="859.6" x2="613.6" y2="859.6" stroke="#000" stroke-width="4.8"/>
<text transform="translate(599 869.8) scale(1 1.08)" font-size="29.8" text-anchor="end" stroke="#231815" stroke-width="0.45">2</text>
<line x1="601.7" y1="979.5" x2="613.6" y2="979.5" stroke="#000" stroke-width="4.8"/>
<text transform="translate(599 989.7) scale(1 1.08)" font-size="29.8" text-anchor="end" stroke="#231815" stroke-width="0.45">1</text>
<line x1="601.7" y1="1099.8" x2="613.6" y2="1099.8" stroke="#000" stroke-width="4.8"/>
<text transform="translate(599 1110) scale(1 1.08)" font-size="29.8" text-anchor="end" stroke="#231815" stroke-width="0.45">0</text>
<line x1="757" y1="1099.8" x2="757" y2="1110.4" stroke="#000" stroke-width="4.8"/>
<text transform="translate(755.2 1142.7) scale(1 1.04)" font-size="29.6" text-anchor="middle" stroke="#231815" stroke-width="0.45">HCT15</text>
<text transform="translate(523.1 916.6) rotate(-90) scale(1 1.04)" font-size="34.4" text-anchor="middle" stroke="#231815" stroke-width="0.45">Relative expression</text>
<text transform="translate(565.2 918.5) rotate(-90) scale(1 1.04)" font-size="34.3" text-anchor="middle" stroke="#231815" stroke-width="0.45">of FOXC1</text>
<rect x="631.9" y="672.8" width="32.5" height="21.2" fill="none" stroke="#3b3fa6" stroke-width="3.2"/>
<rect x="631.9" y="714.4" width="32.5" height="21.4" fill="none" stroke="#e2432f" stroke-width="3.2"/>
<text transform="translate(674.5 690.3) scale(1 1.04)" font-size="26.6" stroke="#231815" stroke-width="0.45">inhibitor-NC</text>
<text transform="translate(671.8 730.8) scale(1 1.04)" font-size="26.7" stroke="#231815" stroke-width="0.45">miR-141-3p inhibitor</text>
<path d="M695.6 786V776.8H820V786" fill="none" stroke="#111" stroke-width="2.6" stroke-linejoin="miter"/>
<text transform="translate(759.5 775.5) scale(1 1.04)" font-size="35" text-anchor="middle" font-weight="bold" stroke="#231815" stroke-width="0.45" letter-spacing="4.4">***</text>
</g>
<g id="p-e">
<defs><filter id="bl2" filterUnits="userSpaceOnUse" x="1200" y="740" width="680" height="240"><feGaussianBlur stdDeviation="2"/></filter><filter id="bl3" filterUnits="userSpaceOnUse" x="1200" y="740" width="680" height="240"><feGaussianBlur stdDeviation="3"/></filter><filter id="bl5" filterUnits="userSpaceOnUse" x="1200" y="740" width="680" height="240"><feGaussianBlur stdDeviation="5.5"/></filter></defs>
<text transform="translate(1062.8 632.6) scale(1 1.04)" font-size="39.5" stroke="#231815" stroke-width="0.45">E</text>
<text transform="translate(1325.1 688.8) scale(1 1.04)" font-size="35.4" text-anchor="middle" stroke="#231815" stroke-width="0.45">DLD1</text>
<line x1="1248.3" y1="703.7" x2="1385.5" y2="703.7" stroke="#1a1514" stroke-width="3"/>
<text transform="translate(1281.4 748.7) scale(1 1.04)" font-size="37" text-anchor="middle" stroke="#231815" stroke-width="0.45">1.0</text>
<text transform="translate(1356.8 748.7) scale(1 1.04)" font-size="37" text-anchor="middle" stroke="#231815" stroke-width="0.45">0.4</text>
<text transform="translate(1084 821.5) scale(1 1.04)" font-size="40" stroke="#231815" stroke-width="0.45">FOXC1</text>
<text transform="translate(1090.5 907.4) scale(1 1.04)" font-size="41" stroke="#231815" stroke-width="0.45">β-actin</text>
<clipPath id="bc1"><rect x="1233.6" y="766.8" width="181.5" height="86.1"/></clipPath>
<g clip-path="url(#bc1)">
<rect x="1233.6" y="766.8" width="181.5" height="86.1" fill="#ececec"/>
<rect x="1246" y="815" width="76" height="41" fill="#9a9a9a" opacity="0.55" filter="url(#bl5)"/>
<rect x="1352" y="818" width="56" height="38" fill="#aaaaaa" opacity="0.4" filter="url(#bl5)"/>
<rect x="1331" y="760" width="14" height="100" fill="#ffffff" opacity="0.7" filter="url(#bl5)"/>
<rect x="1236" y="760" width="176" height="30" fill="#ffffff" opacity="0.5" filter="url(#bl5)"/>
<path d="M1252.47 811.43Q1282.14 805.49 1325 813.63" fill="none" stroke="#222" stroke-width="17" stroke-linecap="round" stroke-linejoin="round" opacity="0.5" filter="url(#bl5)"/>
<path d="M1253.02 811.65Q1282.14 805.82 1324.45 813.63" fill="none" stroke="#050505" stroke-width="9.5" stroke-linecap="round" stroke-linejoin="round" opacity="0.95" filter="url(#bl3)"/>
<path d="M1351.37 814.4L1404.12 819.34" fill="none" stroke="#555" stroke-width="9" stroke-linecap="round" stroke-linejoin="round" opacity="0.8" filter="url(#bl3)"/>
</g>
<rect x="1235.15" y="768.35" width="178.4" height="83" fill="none" stroke="#1a1211" stroke-width="3.1"/>
<clipPath id="bc2"><rect x="1233.6" y="860.2" width="181.5" height="86.4"/></clipPath>
<g clip-path="url(#bc2)">
<rect x="1233.6" y="860.2" width="181.5" height="86.4" fill="#ececec"/>
<rect x="1331" y="855" width="14" height="95" fill="#ffffff" opacity="0.5" filter="url(#bl5)"/>
<rect x="1250" y="915" width="80" height="20" fill="#888" opacity="0.3" filter="url(#bl5)"/>
<path d="M1257.97 907.25Q1291.48 897.36 1318.41 904.18" fill="none" stroke="#000" stroke-width="20" stroke-linecap="round" stroke-linejoin="round" opacity="1" filter="url(#bl3)"/>
<path d="M1256.87 906.7L1266.76 910" fill="none" stroke="#000" stroke-width="21" stroke-linecap="round" stroke-linejoin="round" opacity="1" filter="url(#bl3)"/>
<path d="M1357.97 913.3Q1378.85 903.13 1390.93 902.86" fill="none" stroke="#000" stroke-width="23" stroke-linecap="round" stroke-linejoin="round" opacity="1" filter="url(#bl3)"/>
<path d="M1362.36 917.14L1365.66 931.43" fill="none" stroke="#111" stroke-width="9" stroke-linecap="round" stroke-linejoin="round" opacity="0.75" filter="url(#bl5)"/>
</g>
<rect x="1235.15" y="861.75" width="178.4" height="83.3" fill="none" stroke="#1a1211" stroke-width="3.1"/>
<text transform="translate(1182.3 1101.8) rotate(-45) scale(1 1.04)" font-size="32.4" stroke="#231815" stroke-width="0.45">mimics-NC</text>
<text transform="translate(1263.2 1101.8) rotate(-45) scale(1 1.04)" font-size="32.3" stroke="#231815" stroke-width="0.45">miR-141-3p</text>
<text transform="translate(1747 683) scale(1 1.04)" font-size="35.3" text-anchor="middle" stroke="#231815" stroke-width="0.45">HCT15</text>
<line x1="1678.9" y1="697.9" x2="1816.2" y2="697.9" stroke="#1a1514" stroke-width="3"/>
<text transform="translate(1703 747.4) scale(1 1.04)" font-size="37" text-anchor="middle" stroke="#231815" stroke-width="0.45">1.0</text>
<text transform="translate(1793 747.4) scale(1 1.04)" font-size="37" text-anchor="middle" stroke="#231815" stroke-width="0.45">2.0</text>
<text transform="translate(1499.5 820.7) scale(1 1.04)" font-size="40" stroke="#231815" stroke-width="0.45">FOXC1</text>
<text transform="translate(1500 906.1) scale(1 1.04)" font-size="41" stroke="#231815" stroke-width="0.45">β-actin</text>
<clipPath id="bc3"><rect x="1664.3" y="769" width="178.8" height="85"/></clipPath>
<g clip-path="url(#bc3)">
<rect x="1664.3" y="769" width="178.8" height="85" fill="#ececec"/>
<rect x="1676" y="790" width="62" height="70" fill="#bbb" opacity="0.4" filter="url(#bl5)"/>
<rect x="1762" y="790" width="64" height="70" fill="#999" opacity="0.45" filter="url(#bl5)"/>
<rect x="1742" y="760" width="14" height="100" fill="#ffffff" opacity="0.75" filter="url(#bl5)"/>
<path d="M1681.37 812.53Q1703.35 806.81 1729.73 809.45" fill="none" stroke="#4a4a4a" stroke-width="14.5" stroke-linecap="round" stroke-linejoin="round" opacity="0.75" filter="url(#bl3)"/>
<path d="M1764.89 811.65Q1783.02 806.81 1816.54 816.04" fill="none" stroke="#1a1a1a" stroke-width="15" stroke-linecap="round" stroke-linejoin="round" opacity="0.82" filter="url(#bl3)"/>
<path d="M1806.65 815.49L1815.99 818.79" fill="none" stroke="#000" stroke-width="8" stroke-linecap="round" stroke-linejoin="round" opacity="0.7" filter="url(#bl3)"/>
</g>
<rect x="1665.85" y="770.55" width="175.7" height="81.9" fill="none" stroke="#1a1211" stroke-width="3.1"/>
<clipPath id="bc4"><rect x="1664.3" y="863.8" width="178.8" height="85"/></clipPath>
<g clip-path="url(#bc4)">
<rect x="1664.3" y="863.8" width="178.8" height="85" fill="#ececec"/>
<rect x="1752" y="860" width="12" height="90" fill="#ffffff" opacity="0.5" filter="url(#bl5)"/>
<path d="M1685.77 917.69Q1712.69 915.33 1737.42 911.43" fill="none" stroke="#000" stroke-width="20.5" stroke-linecap="round" stroke-linejoin="round" opacity="1" filter="url(#bl3)"/>
<path d="M1776.43 910.55Q1795.66 912.31 1823.68 910.55" fill="none" stroke="#000" stroke-width="21.5" stroke-linecap="round" stroke-linejoin="round" opacity="1" filter="url(#bl3)"/>
</g>
<rect x="1665.85" y="865.35" width="175.7" height="81.9" fill="none" stroke="#1a1211" stroke-width="3.1"/>
<text transform="translate(1631.1 1092.4) rotate(-45) scale(1 1.04)" font-size="26.5" stroke="#231815" stroke-width="0.45">inhibitor-NC</text>
<text transform="translate(1709 1098.7) rotate(-45) scale(1 1.04)" font-size="26.7" stroke="#231815" stroke-width="0.45">inhibitor-141</text>
</g>
<g id="p-f">
<text transform="translate(10.5 1226.5) scale(1 1.04)" font-size="39.5" stroke="#231815" stroke-width="0.45">F</text>
<rect x="38.7" y="1309" width="917.9" height="226.8" fill="none" stroke="#1a1514" stroke-width="2.8"/>
<text transform="translate(89.2 1356.1) scale(1 1.04)" font-size="29.7" stroke="#231815" stroke-width="0.45">FOXC1-WT</text>
<text transform="translate(88.4 1432.5) scale(1 1.04)" font-size="29.7" stroke="#231815" stroke-width="0.45">miR-141-3p</text>
<text transform="translate(89.2 1508.8) scale(1 1.04)" font-size="29.7" stroke="#231815" stroke-width="0.45">FOXC1-Mut</text>
<text transform="translate(308.3 1356.1) scale(1 1.04)" font-size="29.7" stroke="#231815" stroke-width="0.45">5'</text>
<text transform="translate(340.8 1356.1) scale(1 1.04)" font-size="29.7" stroke="#231815" stroke-width="0.45">....</text>
<text transform="translate(373 1356.1) scale(1 1.04)" font-size="29.7" stroke="#231815" stroke-width="0.45">GGUUUAUUAAAGGACAGUGUUA</text>
<text transform="translate(850.8 1356.1) scale(1 1.04)" font-size="29.7" stroke="#231815" stroke-width="0.45">....</text>
<text transform="translate(899.2 1356.1) scale(1 1.04)" font-size="29.7" stroke="#231815" stroke-width="0.45">3'</text>
<text transform="translate(309.7 1432.5) scale(1 1.04)" font-size="29.7" stroke="#231815" stroke-width="0.45">3'</text>
<text transform="translate(373 1432.5) scale(1 1.04)" font-size="29.7" stroke="#231815" stroke-width="0.45"><tspan>GGU</tspan><tspan fill="#d8321f" stroke="#d8321f">A</tspan><tspan>GA</tspan><tspan fill="#d8321f" stroke="#d8321f">AAU</tspan><tspan>GGU</tspan><tspan fill="#d8321f" stroke="#d8321f">CUGUCACAA</tspan><tspan>U</tspan></text>
<text transform="translate(893.2 1432.5) scale(1 1.04)" font-size="29.7" stroke="#231815" stroke-width="0.45">5'</text>
<text transform="translate(304.7 1508.8) scale(1 1.04)" font-size="29.7" stroke="#231815" stroke-width="0.45">5'</text>
<text transform="translate(336.7 1508.8) scale(1 1.04)" font-size="29.7" stroke="#231815" stroke-width="0.45">....</text>
<text transform="translate(375.7 1508.8) scale(1 1.04)" font-size="29.7" stroke="#231815" stroke-width="0.45"><tspan>GGU</tspan><tspan fill="#2eaa5b" stroke="#2eaa5b">A</tspan><tspan>UA</tspan><tspan fill="#2eaa5b" stroke="#2eaa5b">GGC</tspan><tspan>AAG</tspan><tspan fill="#2eaa5b" stroke="#2eaa5b">CCGGACACG</tspan><tspan>A</tspan></text>
<text transform="translate(858 1508.8) scale(1 1.04)" font-size="29.7" stroke="#231815" stroke-width="0.45">....</text>
<text transform="translate(898.4 1508.8) scale(1 1.04)" font-size="29.7" stroke="#231815" stroke-width="0.45">3'</text>
<path d="M449.1 1367.4V1403.6M511.7 1367.4V1403.6M531.6 1367.4V1403.6M552 1367.4V1403.6M640.2 1367.4V1403.6M661.9 1367.4V1403.6M680.5 1367.4V1403.6M703.1 1367.4V1403.6M724.5 1367.4V1403.6M744.3 1367.4V1403.6M765.7 1367.4V1403.6M787.1 1367.4V1403.6M811.3 1367.4V1403.6" fill="none" stroke="#1a1514" stroke-width="3"/>
</g>
<g id="p-g">
<text transform="translate(1043 1216.3) scale(1 1.04)" font-size="41" stroke="#231815" stroke-width="0.45">G</text>
<text transform="translate(1306.5 1212.4) scale(1 1.04)" font-size="28.9" text-anchor="middle" stroke="#231815" stroke-width="0.45">DLD1</text>
<path d="M1210.6 1600.8V1373.2H1247.2V1600.8" fill="none" stroke="#6073c6" stroke-width="3.3" stroke-linejoin="miter"/>
<path d="M1265.5 1600.8V1514.8H1302V1600.8" fill="none" stroke="#e8603f" stroke-width="3.3" stroke-linejoin="miter"/>
<path d="M1356 1600.8V1373.2H1392.5V1600.8" fill="none" stroke="#6073c6" stroke-width="3.3" stroke-linejoin="miter"/>
<path d="M1410.8 1600.8V1338.4H1447.3V1600.8" fill="none" stroke="#e8603f" stroke-width="3.3" stroke-linejoin="miter"/>
<path d="M1223.7 1369H1234.7M1223.7 1379.7H1234.7M1229.2 1369V1379.7" fill="none" stroke="#6073c6" stroke-width="1.9"/>
<path d="M1274.3 1505.3H1292.7M1274.3 1525H1292.7M1283.5 1505.3V1525" fill="none" stroke="#e8603f" stroke-width="1.9"/>
<path d="M1365.1 1339.2H1383.3M1365.1 1408.2H1383.3M1374.2 1339.2V1408.2" fill="none" stroke="#6073c6" stroke-width="1.9"/>
<path d="M1419.7 1326.6H1437.9M1419.7 1351.9H1437.9M1428.8 1326.6V1351.9" fill="none" stroke="#e8603f" stroke-width="1.9"/>
<circle cx="1218.3" cy="1369.6" r="5.5" fill="#fff" stroke="#111" stroke-width="2.4"/><circle cx="1229.2" cy="1379.2" r="5.5" fill="#fff" stroke="#111" stroke-width="2.4"/><circle cx="1239.8" cy="1374.1" r="5.5" fill="#fff" stroke="#111" stroke-width="2.4"/><circle cx="1283.5" cy="1505.3" r="5.5" fill="#fff" stroke="#111" stroke-width="2.4"/><circle cx="1291.6" cy="1516.2" r="5.5" fill="#fff" stroke="#111" stroke-width="2.4"/><circle cx="1275.7" cy="1524.3" r="5.5" fill="#fff" stroke="#111" stroke-width="2.4"/><circle cx="1374.2" cy="1333.7" r="5.5" fill="#fff" stroke="#111" stroke-width="2.4"/><circle cx="1366.1" cy="1394.3" r="5.5" fill="#fff" stroke="#111" stroke-width="2.4"/><circle cx="1382.1" cy="1394.3" r="5.5" fill="#fff" stroke="#111" stroke-width="2.4"/><circle cx="1428.8" cy="1324.6" r="5.5" fill="#fff" stroke="#111" stroke-width="2.4"/><circle cx="1436.9" cy="1343.8" r="5.5" fill="#fff" stroke="#111" stroke-width="2.4"/><circle cx="1421" cy="1348.1" r="5.5" fill="#fff" stroke="#111" stroke-width="2.4"/>
<path d="M1191.3 1257.9V1603.3M1188.8 1600.8H1467.3" fill="none" stroke="#000" stroke-width="5"/>
<line x1="1183.7" y1="1260.4" x2="1191.3" y2="1260.4" stroke="#000" stroke-width="4.6"/>
<text transform="translate(1178.5 1270) scale(1 1.06)" font-size="28.3" text-anchor="end" stroke="#231815" stroke-width="0.45">1.5</text>
<line x1="1183.7" y1="1374.1" x2="1191.3" y2="1374.1" stroke="#000" stroke-width="4.6"/>
<text transform="translate(1178.5 1383.7) scale(1 1.06)" font-size="28.3" text-anchor="end" stroke="#231815" stroke-width="0.45">1.0</text>
<line x1="1183.7" y1="1487.6" x2="1191.3" y2="1487.6" stroke="#000" stroke-width="4.6"/>
<text transform="translate(1178.5 1497.2) scale(1 1.06)" font-size="28.3" text-anchor="end" stroke="#231815" stroke-width="0.45">0.5</text>
<line x1="1183.7" y1="1600.8" x2="1191.3" y2="1600.8" stroke="#000" stroke-width="4.6"/>
<text transform="translate(1178.5 1610.4) scale(1 1.06)" font-size="28.3" text-anchor="end" stroke="#231815" stroke-width="0.45">0.0</text>
<line x1="1255.7" y1="1600.8" x2="1255.7" y2="1611" stroke="#000" stroke-width="4.6"/>
<line x1="1401" y1="1600.8" x2="1401" y2="1611" stroke="#000" stroke-width="4.6"/>
<text transform="translate(1257.9 1645.1) scale(1 1.04)" font-size="28.4" text-anchor="middle" stroke="#231815" stroke-width="0.45">WT</text>
<text transform="translate(1402.4 1645.1) scale(1 1.04)" font-size="28.4" text-anchor="middle" stroke="#231815" stroke-width="0.45">MUT</text>
<text transform="translate(1123.5 1428.1) rotate(-90) scale(1 1.04)" font-size="32.2" text-anchor="middle" stroke="#231815" stroke-width="0.45">Relative luciferase activity</text>
<rect x="1214.15" y="1238.55" width="33.1" height="21.9" fill="none" stroke="#3b3fa6" stroke-width="3.3"/>
<rect x="1214.15" y="1268.05" width="33.1" height="21.5" fill="none" stroke="#e2432f" stroke-width="3.3"/>
<text transform="translate(1257.5 1258.4) scale(1 1.04)" font-size="23.4" stroke="#231815" stroke-width="0.45">mimic-NC</text>
<text transform="translate(1257 1289.2) scale(1 1.04)" font-size="23.6" stroke="#231815" stroke-width="0.45">miR-141-3p</text>
<path d="M1228.4 1354.4V1346.1H1280.2V1354.4" fill="none" stroke="#111" stroke-width="2.8" stroke-linejoin="miter"/>
<text transform="translate(1254.95 1352.4) scale(1 1.04)" font-size="30" text-anchor="middle" font-weight="bold" stroke="#231815" stroke-width="0.45" letter-spacing="1.5">***</text>
<text transform="translate(1767.8 1212.4) scale(1 1.04)" font-size="30.5" text-anchor="middle" stroke="#231815" stroke-width="0.45">HCT15</text>
<path d="M1633.7 1595.8V1454.7H1668.8V1595.8" fill="none" stroke="#6073c6" stroke-width="3.3" stroke-linejoin="miter"/>
<path d="M1691.4 1595.8V1308.6H1725.9V1595.8" fill="none" stroke="#e8603f" stroke-width="3.3" stroke-linejoin="miter"/>
<path d="M1786.2 1595.8V1454.7H1820.9V1595.8" fill="none" stroke="#6073c6" stroke-width="3.3" stroke-linejoin="miter"/>
<path d="M1843.8 1595.8V1436.5H1878.3V1595.8" fill="none" stroke="#e8603f" stroke-width="3.3" stroke-linejoin="miter"/>
<path d="M1641.8 1423.1H1660.8M1641.8 1483.3H1660.8M1651.3 1423.1V1483.3" fill="none" stroke="#6073c6" stroke-width="1.9"/>
<path d="M1698.6 1280.3H1717.6M1698.6 1334.2H1717.6M1708.1 1280.3V1334.2" fill="none" stroke="#e8603f" stroke-width="1.9"/>
<path d="M1793.9 1424.2H1812.9M1793.9 1482.5H1812.9M1803.4 1424.2V1482.5" fill="none" stroke="#6073c6" stroke-width="1.9"/>
<path d="M1851.3 1417.8H1870.3M1851.3 1452H1870.3M1860.8 1417.8V1452" fill="none" stroke="#e8603f" stroke-width="1.9"/>
<circle cx="1651.3" cy="1418.6" r="5.5" fill="#fff" stroke="#111" stroke-width="2.4"/><circle cx="1637.4" cy="1472.4" r="5.5" fill="#fff" stroke="#111" stroke-width="2.4"/><circle cx="1664.9" cy="1469.9" r="5.5" fill="#fff" stroke="#111" stroke-width="2.4"/><circle cx="1708.1" cy="1281.6" r="5.5" fill="#fff" stroke="#111" stroke-width="2.4"/><circle cx="1708.1" cy="1305.1" r="5.5" fill="#fff" stroke="#111" stroke-width="2.4"/><circle cx="1708.1" cy="1335.4" r="5.5" fill="#fff" stroke="#111" stroke-width="2.4"/><circle cx="1803.4" cy="1423.6" r="5.5" fill="#fff" stroke="#111" stroke-width="2.4"/><circle cx="1803.4" cy="1453" r="5.5" fill="#fff" stroke="#111" stroke-width="2.4"/><circle cx="1803.4" cy="1483.3" r="5.5" fill="#fff" stroke="#111" stroke-width="2.4"/><circle cx="1860.8" cy="1416.1" r="5.5" fill="#fff" stroke="#111" stroke-width="2.4"/><circle cx="1860.8" cy="1438.3" r="5.5" fill="#fff" stroke="#111" stroke-width="2.4"/><circle cx="1860.8" cy="1450.4" r="5.5" fill="#fff" stroke="#111" stroke-width="2.4"/>
<path d="M1612.6 1236.9V1598.3M1610.1 1595.8H1900" fill="none" stroke="#000" stroke-width="5"/>
<line x1="1602.5" y1="1239.4" x2="1612.6" y2="1239.4" stroke="#000" stroke-width="4.6"/>
<text transform="translate(1596.5 1248.8) scale(1 1.06)" font-size="29.5" text-anchor="end" stroke="#231815" stroke-width="0.45">2.5</text>
<line x1="1602.5" y1="1310.68" x2="1612.6" y2="1310.68" stroke="#000" stroke-width="4.6"/>
<text transform="translate(1596.5 1320.08) scale(1 1.06)" font-size="29.5" text-anchor="end" stroke="#231815" stroke-width="0.45">2.0</text>
<line x1="1602.5" y1="1381.96" x2="1612.6" y2="1381.96" stroke="#000" stroke-width="4.6"/>
<text transform="translate(1596.5 1391.36) scale(1 1.06)" font-size="29.5" text-anchor="end" stroke="#231815" stroke-width="0.45">1.5</text>
<line x1="1602.5" y1="1453.24" x2="1612.6" y2="1453.24" stroke="#000" stroke-width="4.6"/>
<text transform="translate(1596.5 1462.64) scale(1 1.06)" font-size="29.5" text-anchor="end" stroke="#231815" stroke-width="0.45">1.0</text>
<line x1="1602.5" y1="1524.52" x2="1612.6" y2="1524.52" stroke="#000" stroke-width="4.6"/>
<text transform="translate(1596.5 1533.92) scale(1 1.06)" font-size="29.5" text-anchor="end" stroke="#231815" stroke-width="0.45">0.5</text>
<line x1="1602.5" y1="1595.8" x2="1612.6" y2="1595.8" stroke="#000" stroke-width="4.6"/>
<text transform="translate(1596.5 1605.2) scale(1 1.06)" font-size="29.5" text-anchor="end" stroke="#231815" stroke-width="0.45">0.0</text>
<line x1="1679.1" y1="1595.8" x2="1679.1" y2="1605.9" stroke="#000" stroke-width="4.6"/>
<line x1="1831.7" y1="1595.8" x2="1831.7" y2="1605.9" stroke="#000" stroke-width="4.6"/>
<text transform="translate(1676.7 1631.2) scale(1 1.04)" font-size="28.4" text-anchor="middle" stroke="#231815" stroke-width="0.45">WT</text>
<text transform="translate(1834 1637) scale(1 1.04)" font-size="28.4" text-anchor="middle" stroke="#231815" stroke-width="0.45">MUT</text>
<text transform="translate(1535.5 1413.2) rotate(-90) scale(1 1.04)" font-size="33.7" text-anchor="middle" stroke="#231815" stroke-width="0.45">Relative luciferase activity</text>
<rect x="1751.95" y="1237.75" width="33.9" height="22.7" fill="none" stroke="#3b3fa6" stroke-width="3.3"/>
<rect x="1751.95" y="1270.15" width="33.9" height="21.9" fill="none" stroke="#e2432f" stroke-width="3.3"/>
<text transform="translate(1797.5 1253.8) scale(1 1.04)" font-size="22" stroke="#231815" stroke-width="0.45">inhibitor-NC</text>
<text transform="translate(1797.5 1286.2) scale(1 1.04)" font-size="22.1" stroke="#231815" stroke-width="0.45">miR-141-3p</text>
<text transform="translate(1797.5 1312.7) scale(1 1.04)" font-size="22" stroke="#231815" stroke-width="0.45">inhibitor</text>
<path d="M1651.8 1268V1260.1H1703.6V1268" fill="none" stroke="#111" stroke-width="2.8" stroke-linejoin="miter"/>
<text transform="translate(1679.15 1264.5) scale(1 1.04)" font-size="30" text-anchor="middle" font-weight="bold" stroke="#231815" stroke-width="0.45" letter-spacing="1.5">**</text>
</g>
<g id="p-h">
<text transform="translate(9.5 1724.5) scale(1 1.04)" font-size="39.5" stroke="#231815" stroke-width="0.45">H</text>
<line x1="198.08" y1="2067.69" x2="239.62" y2="2067.69" stroke="#111" stroke-width="2.3"/>
<g fill="#5166bd" fill-opacity="0.86"><circle cx="219.23" cy="2003.85" r="5.8"/><circle cx="210.77" cy="2021.54" r="5.8"/><circle cx="227.69" cy="2023.46" r="5.8"/><circle cx="193.46" cy="2025.77" r="5.8"/><circle cx="219.23" cy="2030.77" r="5.8"/><circle cx="244.62" cy="2028.46" r="5.8"/><circle cx="185" cy="2034.62" r="5.8"/><circle cx="253.46" cy="2034.23" r="5.8"/><circle cx="201.92" cy="2042.31" r="5.8"/><circle cx="236.15" cy="2040" r="5.8"/><circle cx="219.23" cy="2048.46" r="5.8"/><circle cx="210.38" cy="2052.31" r="5.8"/><circle cx="227.69" cy="2051.54" r="5.8"/><circle cx="250.38" cy="2053.46" r="5.8"/><circle cx="187.69" cy="2059.23" r="5.8"/><circle cx="194.62" cy="2060.77" r="5.8"/><circle cx="201.54" cy="2062.69" r="5.8"/><circle cx="209.23" cy="2064.62" r="5.8"/><circle cx="229.23" cy="2064.62" r="5.8"/><circle cx="236.92" cy="2061.92" r="5.8"/><circle cx="243.46" cy="2060.38" r="5.8"/><circle cx="215.38" cy="2068.46" r="5.8"/><circle cx="184.23" cy="2071.15" r="5.8"/><circle cx="188.46" cy="2073.46" r="5.8"/><circle cx="193.08" cy="2076.15" r="5.8"/><circle cx="197.69" cy="2078.46" r="5.8"/><circle cx="202.31" cy="2080.38" r="5.8"/><circle cx="206.92" cy="2082.31" r="5.8"/><circle cx="211.54" cy="2084.23" r="5.8"/><circle cx="216.15" cy="2085.77" r="5.8"/><circle cx="219.23" cy="2086.54" r="5.8"/><circle cx="223.08" cy="2085.54" r="5.8"/><circle cx="227.69" cy="2083.85" r="5.8"/><circle cx="232.31" cy="2081.54" r="5.8"/><circle cx="236.92" cy="2079.23" r="5.8"/><circle cx="241.54" cy="2076.92" r="5.8"/><circle cx="246.15" cy="2074.23" r="5.8"/><circle cx="250.77" cy="2071.92" r="5.8"/><circle cx="253.85" cy="2070" r="5.8"/><circle cx="190.77" cy="2074.62" r="5.8"/><circle cx="200" cy="2079.62" r="5.8"/><circle cx="209.23" cy="2083.46" r="5.8"/><circle cx="230" cy="2082.69" r="5.8"/><circle cx="239.23" cy="2078.08" r="5.8"/><circle cx="248.46" cy="2073.08" r="5.8"/><circle cx="186.15" cy="2088.08" r="5.8"/><circle cx="194.62" cy="2091.54" r="5.8"/><circle cx="202.31" cy="2093.08" r="5.8"/><circle cx="210.77" cy="2099.23" r="5.8"/><circle cx="219.23" cy="2105.38" r="5.8"/><circle cx="227.31" cy="2101.15" r="5.8"/><circle cx="235.38" cy="2094.23" r="5.8"/><circle cx="243.85" cy="2092.31" r="5.8"/><circle cx="252.31" cy="2089.23" r="5.8"/></g>
<path d="M201.92 2041.92H236.15M219.23 2041.92V2080" fill="none" stroke="#4960b8" stroke-width="2.6" stroke-opacity="0.85"/>
<line x1="326.32" y1="2034.49" x2="368.36" y2="2034.49" stroke="#111" stroke-width="4"/>
<circle cx="346.91" cy="1821.74" r="6" fill="#e5583b" fill-opacity="0.93"/><circle cx="346.91" cy="1857.43" r="6" fill="#e5583b" fill-opacity="0.93"/><circle cx="338.33" cy="1862.06" r="6" fill="#e5583b" fill-opacity="0.93"/><circle cx="355.49" cy="1877.84" r="6" fill="#e5583b" fill-opacity="0.93"/><circle cx="330.1" cy="1888.65" r="6" fill="#e5583b" fill-opacity="0.93"/><circle cx="364.07" cy="1897.57" r="6" fill="#e5583b" fill-opacity="0.93"/><circle cx="346.91" cy="1904.95" r="6" fill="#e5583b" fill-opacity="0.93"/><circle cx="338.33" cy="1914.39" r="6" fill="#e5583b" fill-opacity="0.93"/><circle cx="355.49" cy="1915.25" r="6" fill="#e5583b" fill-opacity="0.93"/><circle cx="317.75" cy="1918.68" r="6" fill="#e5583b" fill-opacity="0.9"/><circle cx="326.32" cy="1921.25" r="6" fill="#e5583b" fill-opacity="0.9"/><circle cx="334.9" cy="1923.82" r="6" fill="#e5583b" fill-opacity="0.9"/><circle cx="342.62" cy="1925.54" r="6" fill="#e5583b" fill-opacity="0.9"/><circle cx="350.34" cy="1926.4" r="6" fill="#e5583b" fill-opacity="0.9"/><circle cx="358.92" cy="1924.68" r="6" fill="#e5583b" fill-opacity="0.9"/><circle cx="367.5" cy="1921.76" r="6" fill="#e5583b" fill-opacity="0.9"/><circle cx="375.22" cy="1919.53" r="6" fill="#e5583b" fill-opacity="0.9"/><circle cx="310.88" cy="1927.25" r="6" fill="#e5583b" fill-opacity="0.9"/><circle cx="382.94" cy="1927.25" r="6" fill="#e5583b" fill-opacity="0.9"/><circle cx="318.6" cy="1928.11" r="6" fill="#e5583b" fill-opacity="0.9"/><circle cx="375.22" cy="1928.11" r="6" fill="#e5583b" fill-opacity="0.9"/><circle cx="316.03" cy="1928.11" r="6" fill="#e5583b" fill-opacity="0.9"/><circle cx="320.44" cy="1929.95" r="6" fill="#e5583b" fill-opacity="0.9"/><circle cx="324.85" cy="1931.79" r="6" fill="#e5583b" fill-opacity="0.9"/><circle cx="329.26" cy="1933.63" r="6" fill="#e5583b" fill-opacity="0.9"/><circle cx="333.68" cy="1935.47" r="6" fill="#e5583b" fill-opacity="0.9"/><circle cx="338.09" cy="1937.3" r="6" fill="#e5583b" fill-opacity="0.9"/><circle cx="342.5" cy="1939.14" r="6" fill="#e5583b" fill-opacity="0.9"/><circle cx="346.91" cy="1940.98" r="6" fill="#e5583b" fill-opacity="0.9"/><circle cx="351.32" cy="1939.14" r="6" fill="#e5583b" fill-opacity="0.9"/><circle cx="355.74" cy="1937.3" r="6" fill="#e5583b" fill-opacity="0.9"/><circle cx="360.15" cy="1935.47" r="6" fill="#e5583b" fill-opacity="0.9"/><circle cx="364.56" cy="1933.63" r="6" fill="#e5583b" fill-opacity="0.9"/><circle cx="368.97" cy="1931.79" r="6" fill="#e5583b" fill-opacity="0.9"/><circle cx="373.38" cy="1929.95" r="6" fill="#e5583b" fill-opacity="0.9"/><circle cx="377.79" cy="1928.11" r="6" fill="#e5583b" fill-opacity="0.9"/><circle cx="311.74" cy="1943.82" r="6" fill="#e24a32" fill-opacity="0.93"/><circle cx="314.98" cy="1944.82" r="6" fill="#e24a32" fill-opacity="0.93"/><circle cx="318.21" cy="1945.82" r="6" fill="#e24a32" fill-opacity="0.93"/><circle cx="321.45" cy="1946.82" r="6" fill="#e24a32" fill-opacity="0.93"/><circle cx="324.69" cy="1947.83" r="6" fill="#e24a32" fill-opacity="0.93"/><circle cx="327.92" cy="1948.83" r="6" fill="#e24a32" fill-opacity="0.93"/><circle cx="331.16" cy="1949.83" r="6" fill="#e24a32" fill-opacity="0.93"/><circle cx="334.4" cy="1950.83" r="6" fill="#e24a32" fill-opacity="0.93"/><circle cx="337.63" cy="1951.83" r="6" fill="#e24a32" fill-opacity="0.93"/><circle cx="340.87" cy="1952.84" r="6" fill="#e24a32" fill-opacity="0.93"/><circle cx="344.1" cy="1953.84" r="6" fill="#e24a32" fill-opacity="0.93"/><circle cx="347.34" cy="1954.57" r="6" fill="#e24a32" fill-opacity="0.93"/><circle cx="350.58" cy="1953.57" r="6" fill="#e24a32" fill-opacity="0.93"/><circle cx="353.81" cy="1952.57" r="6" fill="#e24a32" fill-opacity="0.93"/><circle cx="357.05" cy="1951.57" r="6" fill="#e24a32" fill-opacity="0.93"/><circle cx="360.29" cy="1950.57" r="6" fill="#e24a32" fill-opacity="0.93"/><circle cx="363.52" cy="1949.56" r="6" fill="#e24a32" fill-opacity="0.93"/><circle cx="366.76" cy="1948.56" r="6" fill="#e24a32" fill-opacity="0.93"/><circle cx="370" cy="1947.56" r="6" fill="#e24a32" fill-opacity="0.93"/><circle cx="373.23" cy="1946.56" r="6" fill="#e24a32" fill-opacity="0.93"/><circle cx="376.47" cy="1945.56" r="6" fill="#e24a32" fill-opacity="0.93"/><circle cx="379.7" cy="1944.56" r="6" fill="#e24a32" fill-opacity="0.93"/><circle cx="382.94" cy="1943.55" r="6" fill="#e24a32" fill-opacity="0.93"/><circle cx="336.62" cy="1965" r="6" fill="#e5583b" fill-opacity="0.95"/><circle cx="357.21" cy="1965" r="6" fill="#e5583b" fill-opacity="0.95"/><circle cx="309.17" cy="1965" r="6" fill="#df3224"/><circle cx="312.07" cy="1965.92" r="6" fill="#df3224"/><circle cx="314.97" cy="1966.85" r="6" fill="#df3224"/><circle cx="317.88" cy="1967.77" r="6" fill="#df3224"/><circle cx="320.78" cy="1968.7" r="6" fill="#df3224"/><circle cx="323.68" cy="1969.62" r="6" fill="#df3224"/><circle cx="326.59" cy="1970.54" r="6" fill="#df3224"/><circle cx="329.49" cy="1971.47" r="6" fill="#df3224"/><circle cx="332.39" cy="1972.39" r="6" fill="#df3224"/><circle cx="335.3" cy="1973.31" r="6" fill="#df3224"/><circle cx="338.2" cy="1974.24" r="6" fill="#df3224"/><circle cx="341.1" cy="1975.16" r="6" fill="#df3224"/><circle cx="344.01" cy="1976.09" r="6" fill="#df3224"/><circle cx="346.91" cy="1977.01" r="6" fill="#df3224"/><circle cx="349.82" cy="1976.09" r="6" fill="#df3224"/><circle cx="352.72" cy="1975.16" r="6" fill="#df3224"/><circle cx="355.62" cy="1974.24" r="6" fill="#df3224"/><circle cx="358.53" cy="1973.31" r="6" fill="#df3224"/><circle cx="361.43" cy="1972.39" r="6" fill="#df3224"/><circle cx="364.33" cy="1971.47" r="6" fill="#df3224"/><circle cx="367.24" cy="1970.54" r="6" fill="#df3224"/><circle cx="370.14" cy="1969.62" r="6" fill="#df3224"/><circle cx="373.04" cy="1968.7" r="6" fill="#df3224"/><circle cx="375.95" cy="1967.77" r="6" fill="#df3224"/><circle cx="378.85" cy="1966.85" r="6" fill="#df3224"/><circle cx="381.75" cy="1965.92" r="6" fill="#df3224"/><circle cx="384.66" cy="1965" r="6" fill="#df3224"/><circle cx="324.61" cy="1967.85" r="6" fill="#df3224"/><circle cx="327.79" cy="1968.87" r="6" fill="#df3224"/><circle cx="330.98" cy="1969.88" r="6" fill="#df3224"/><circle cx="334.17" cy="1970.9" r="6" fill="#df3224"/><circle cx="337.35" cy="1971.91" r="6" fill="#df3224"/><circle cx="340.54" cy="1972.92" r="6" fill="#df3224"/><circle cx="343.73" cy="1973.94" r="6" fill="#df3224"/><circle cx="346.91" cy="1974.95" r="6" fill="#df3224"/><circle cx="350.1" cy="1973.94" r="6" fill="#df3224"/><circle cx="353.28" cy="1972.92" r="6" fill="#df3224"/><circle cx="356.47" cy="1971.91" r="6" fill="#df3224"/><circle cx="359.66" cy="1970.9" r="6" fill="#df3224"/><circle cx="362.84" cy="1969.88" r="6" fill="#df3224"/><circle cx="366.03" cy="1968.87" r="6" fill="#df3224"/><circle cx="369.22" cy="1967.85" r="6" fill="#df3224"/><circle cx="324.61" cy="1971.97" r="6" fill="#df3224"/><circle cx="327.79" cy="1972.99" r="6" fill="#df3224"/><circle cx="330.98" cy="1974" r="6" fill="#df3224"/><circle cx="334.17" cy="1975.01" r="6" fill="#df3224"/><circle cx="337.35" cy="1976.03" r="6" fill="#df3224"/><circle cx="340.54" cy="1977.04" r="6" fill="#df3224"/><circle cx="343.73" cy="1978.05" r="6" fill="#df3224"/><circle cx="346.91" cy="1979.07" r="6" fill="#df3224"/><circle cx="350.1" cy="1978.05" r="6" fill="#df3224"/><circle cx="353.28" cy="1977.04" r="6" fill="#df3224"/><circle cx="356.47" cy="1976.03" r="6" fill="#df3224"/><circle cx="359.66" cy="1975.01" r="6" fill="#df3224"/><circle cx="362.84" cy="1974" r="6" fill="#df3224"/><circle cx="366.03" cy="1972.99" r="6" fill="#df3224"/><circle cx="369.22" cy="1971.97" r="6" fill="#df3224"/><circle cx="310.88" cy="1984.19" r="6" fill="#df3224"/><circle cx="313.69" cy="1985.24" r="6" fill="#df3224"/><circle cx="316.49" cy="1986.28" r="6" fill="#df3224"/><circle cx="319.3" cy="1987.32" r="6" fill="#df3224"/><circle cx="322.1" cy="1988.37" r="6" fill="#df3224"/><circle cx="324.9" cy="1989.41" r="6" fill="#df3224"/><circle cx="327.71" cy="1990.45" r="6" fill="#df3224"/><circle cx="330.51" cy="1991.5" r="6" fill="#df3224"/><circle cx="333.32" cy="1992.54" r="6" fill="#df3224"/><circle cx="336.12" cy="1993.58" r="6" fill="#df3224"/><circle cx="338.93" cy="1994.63" r="6" fill="#df3224"/><circle cx="341.73" cy="1995.67" r="6" fill="#df3224"/><circle cx="344.54" cy="1996.71" r="6" fill="#df3224"/><circle cx="347.34" cy="1997.44" r="6" fill="#df3224"/><circle cx="350.15" cy="1996.39" r="6" fill="#df3224"/><circle cx="352.95" cy="1995.35" r="6" fill="#df3224"/><circle cx="355.75" cy="1994.31" r="6" fill="#df3224"/><circle cx="358.56" cy="1993.26" r="6" fill="#df3224"/><circle cx="361.36" cy="1992.22" r="6" fill="#df3224"/><circle cx="364.17" cy="1991.18" r="6" fill="#df3224"/><circle cx="366.97" cy="1990.13" r="6" fill="#df3224"/><circle cx="369.78" cy="1989.09" r="6" fill="#df3224"/><circle cx="372.58" cy="1988.05" r="6" fill="#df3224"/><circle cx="375.39" cy="1987" r="6" fill="#df3224"/><circle cx="378.19" cy="1985.96" r="6" fill="#df3224"/><circle cx="380.99" cy="1984.92" r="6" fill="#df3224"/><circle cx="383.8" cy="1983.87" r="6" fill="#df3224"/><circle cx="324.61" cy="1987.04" r="6" fill="#df3224"/><circle cx="327.79" cy="1988.26" r="6" fill="#df3224"/><circle cx="330.98" cy="1989.47" r="6" fill="#df3224"/><circle cx="334.17" cy="1990.68" r="6" fill="#df3224"/><circle cx="337.35" cy="1991.9" r="6" fill="#df3224"/><circle cx="340.54" cy="1993.11" r="6" fill="#df3224"/><circle cx="343.73" cy="1994.33" r="6" fill="#df3224"/><circle cx="346.91" cy="1995.54" r="6" fill="#df3224"/><circle cx="350.1" cy="1994.33" r="6" fill="#df3224"/><circle cx="353.28" cy="1993.11" r="6" fill="#df3224"/><circle cx="356.47" cy="1991.9" r="6" fill="#df3224"/><circle cx="359.66" cy="1990.68" r="6" fill="#df3224"/><circle cx="362.84" cy="1989.47" r="6" fill="#df3224"/><circle cx="366.03" cy="1988.26" r="6" fill="#df3224"/><circle cx="369.22" cy="1987.04" r="6" fill="#df3224"/><circle cx="324.61" cy="1991.16" r="6" fill="#df3224"/><circle cx="327.79" cy="1992.37" r="6" fill="#df3224"/><circle cx="330.98" cy="1993.59" r="6" fill="#df3224"/><circle cx="334.17" cy="1994.8" r="6" fill="#df3224"/><circle cx="337.35" cy="1996.02" r="6" fill="#df3224"/><circle cx="340.54" cy="1997.23" r="6" fill="#df3224"/><circle cx="343.73" cy="1998.44" r="6" fill="#df3224"/><circle cx="346.91" cy="1999.66" r="6" fill="#df3224"/><circle cx="350.1" cy="1998.44" r="6" fill="#df3224"/><circle cx="353.28" cy="1997.23" r="6" fill="#df3224"/><circle cx="356.47" cy="1996.02" r="6" fill="#df3224"/><circle cx="359.66" cy="1994.8" r="6" fill="#df3224"/><circle cx="362.84" cy="1993.59" r="6" fill="#df3224"/><circle cx="366.03" cy="1992.37" r="6" fill="#df3224"/><circle cx="369.22" cy="1991.16" r="6" fill="#df3224"/><circle cx="313.46" cy="1997.6" r="6" fill="#df3224"/><circle cx="316.03" cy="1998.79" r="6" fill="#df3224"/><circle cx="318.6" cy="1999.97" r="6" fill="#df3224"/><circle cx="321.18" cy="2001.16" r="6" fill="#df3224"/><circle cx="323.75" cy="2002.35" r="6" fill="#df3224"/><circle cx="326.32" cy="2003.54" r="6" fill="#df3224"/><circle cx="328.9" cy="2004.72" r="6" fill="#df3224"/><circle cx="331.47" cy="2005.91" r="6" fill="#df3224"/><circle cx="334.04" cy="2007.1" r="6" fill="#df3224"/><circle cx="336.62" cy="2008.29" r="6" fill="#df3224"/><circle cx="339.19" cy="2009.48" r="6" fill="#df3224"/><circle cx="341.76" cy="2010.66" r="6" fill="#df3224"/><circle cx="344.34" cy="2011.85" r="6" fill="#df3224"/><circle cx="346.91" cy="2013.04" r="6" fill="#df3224"/><circle cx="349.49" cy="2011.85" r="6" fill="#df3224"/><circle cx="352.06" cy="2010.66" r="6" fill="#df3224"/><circle cx="354.63" cy="2009.48" r="6" fill="#df3224"/><circle cx="357.21" cy="2008.29" r="6" fill="#df3224"/><circle cx="359.78" cy="2007.1" r="6" fill="#df3224"/><circle cx="362.35" cy="2005.91" r="6" fill="#df3224"/><circle cx="364.93" cy="2004.72" r="6" fill="#df3224"/><circle cx="367.5" cy="2003.54" r="6" fill="#df3224"/><circle cx="370.07" cy="2002.35" r="6" fill="#df3224"/><circle cx="372.65" cy="2001.16" r="6" fill="#df3224"/><circle cx="375.22" cy="1999.97" r="6" fill="#df3224"/><circle cx="377.79" cy="1998.79" r="6" fill="#df3224"/><circle cx="380.37" cy="1997.6" r="6" fill="#df3224"/><circle cx="324.61" cy="2000.69" r="6" fill="#df3224"/><circle cx="327.79" cy="2002.16" r="6" fill="#df3224"/><circle cx="330.98" cy="2003.63" r="6" fill="#df3224"/><circle cx="334.17" cy="2005.1" r="6" fill="#df3224"/><circle cx="337.35" cy="2006.57" r="6" fill="#df3224"/><circle cx="340.54" cy="2008.04" r="6" fill="#df3224"/><circle cx="343.73" cy="2009.51" r="6" fill="#df3224"/><circle cx="346.91" cy="2010.98" r="6" fill="#df3224"/><circle cx="350.1" cy="2009.51" r="6" fill="#df3224"/><circle cx="353.28" cy="2008.04" r="6" fill="#df3224"/><circle cx="356.47" cy="2006.57" r="6" fill="#df3224"/><circle cx="359.66" cy="2005.1" r="6" fill="#df3224"/><circle cx="362.84" cy="2003.63" r="6" fill="#df3224"/><circle cx="366.03" cy="2002.16" r="6" fill="#df3224"/><circle cx="369.22" cy="2000.69" r="6" fill="#df3224"/><circle cx="324.61" cy="2004.8" r="6" fill="#df3224"/><circle cx="327.79" cy="2006.27" r="6" fill="#df3224"/><circle cx="330.98" cy="2007.75" r="6" fill="#df3224"/><circle cx="334.17" cy="2009.22" r="6" fill="#df3224"/><circle cx="337.35" cy="2010.69" r="6" fill="#df3224"/><circle cx="340.54" cy="2012.16" r="6" fill="#df3224"/><circle cx="343.73" cy="2013.63" r="6" fill="#df3224"/><circle cx="346.91" cy="2015.1" r="6" fill="#df3224"/><circle cx="350.1" cy="2013.63" r="6" fill="#df3224"/><circle cx="353.28" cy="2012.16" r="6" fill="#df3224"/><circle cx="356.47" cy="2010.69" r="6" fill="#df3224"/><circle cx="359.66" cy="2009.22" r="6" fill="#df3224"/><circle cx="362.84" cy="2007.75" r="6" fill="#df3224"/><circle cx="366.03" cy="2006.27" r="6" fill="#df3224"/><circle cx="369.22" cy="2004.8" r="6" fill="#df3224"/><circle cx="315.17" cy="2016.47" r="6" fill="#df3224"/><circle cx="317.61" cy="2017.66" r="6" fill="#df3224"/><circle cx="320.05" cy="2018.85" r="6" fill="#df3224"/><circle cx="322.5" cy="2020.03" r="6" fill="#df3224"/><circle cx="324.94" cy="2021.22" r="6" fill="#df3224"/><circle cx="327.38" cy="2022.41" r="6" fill="#df3224"/><circle cx="329.82" cy="2023.6" r="6" fill="#df3224"/><circle cx="332.26" cy="2024.79" r="6" fill="#df3224"/><circle cx="334.7" cy="2025.97" r="6" fill="#df3224"/><circle cx="337.15" cy="2027.16" r="6" fill="#df3224"/><circle cx="339.59" cy="2028.35" r="6" fill="#df3224"/><circle cx="342.03" cy="2029.54" r="6" fill="#df3224"/><circle cx="344.47" cy="2030.72" r="6" fill="#df3224"/><circle cx="346.91" cy="2031.91" r="6" fill="#df3224"/><circle cx="349.35" cy="2030.72" r="6" fill="#df3224"/><circle cx="351.79" cy="2029.54" r="6" fill="#df3224"/><circle cx="354.24" cy="2028.35" r="6" fill="#df3224"/><circle cx="356.68" cy="2027.16" r="6" fill="#df3224"/><circle cx="359.12" cy="2025.97" r="6" fill="#df3224"/><circle cx="361.56" cy="2024.79" r="6" fill="#df3224"/><circle cx="364" cy="2023.6" r="6" fill="#df3224"/><circle cx="366.44" cy="2022.41" r="6" fill="#df3224"/><circle cx="368.89" cy="2021.22" r="6" fill="#df3224"/><circle cx="371.33" cy="2020.03" r="6" fill="#df3224"/><circle cx="373.77" cy="2018.85" r="6" fill="#df3224"/><circle cx="376.21" cy="2017.66" r="6" fill="#df3224"/><circle cx="378.65" cy="2016.47" r="6" fill="#df3224"/><circle cx="324.61" cy="2019" r="6" fill="#df3224"/><circle cx="327.79" cy="2020.55" r="6" fill="#df3224"/><circle cx="330.98" cy="2022.1" r="6" fill="#df3224"/><circle cx="334.17" cy="2023.65" r="6" fill="#df3224"/><circle cx="337.35" cy="2025.2" r="6" fill="#df3224"/><circle cx="340.54" cy="2026.75" r="6" fill="#df3224"/><circle cx="343.73" cy="2028.3" r="6" fill="#df3224"/><circle cx="346.91" cy="2029.85" r="6" fill="#df3224"/><circle cx="350.1" cy="2028.3" r="6" fill="#df3224"/><circle cx="353.28" cy="2026.75" r="6" fill="#df3224"/><circle cx="356.47" cy="2025.2" r="6" fill="#df3224"/><circle cx="359.66" cy="2023.65" r="6" fill="#df3224"/><circle cx="362.84" cy="2022.1" r="6" fill="#df3224"/><circle cx="366.03" cy="2020.55" r="6" fill="#df3224"/><circle cx="369.22" cy="2019" r="6" fill="#df3224"/><circle cx="324.61" cy="2023.12" r="6" fill="#df3224"/><circle cx="327.79" cy="2024.67" r="6" fill="#df3224"/><circle cx="330.98" cy="2026.22" r="6" fill="#df3224"/><circle cx="334.17" cy="2027.77" r="6" fill="#df3224"/><circle cx="337.35" cy="2029.32" r="6" fill="#df3224"/><circle cx="340.54" cy="2030.87" r="6" fill="#df3224"/><circle cx="343.73" cy="2032.42" r="6" fill="#df3224"/><circle cx="346.91" cy="2033.97" r="6" fill="#df3224"/><circle cx="350.1" cy="2032.42" r="6" fill="#df3224"/><circle cx="353.28" cy="2030.87" r="6" fill="#df3224"/><circle cx="356.47" cy="2029.32" r="6" fill="#df3224"/><circle cx="359.66" cy="2027.77" r="6" fill="#df3224"/><circle cx="362.84" cy="2026.22" r="6" fill="#df3224"/><circle cx="366.03" cy="2024.67" r="6" fill="#df3224"/><circle cx="369.22" cy="2023.12" r="6" fill="#df3224"/><circle cx="310.02" cy="2034.49" r="6" fill="#df3224"/><circle cx="312.86" cy="2035.48" r="6" fill="#df3224"/><circle cx="315.7" cy="2036.46" r="6" fill="#df3224"/><circle cx="318.54" cy="2037.45" r="6" fill="#df3224"/><circle cx="321.37" cy="2038.44" r="6" fill="#df3224"/><circle cx="324.21" cy="2039.43" r="6" fill="#df3224"/><circle cx="327.05" cy="2040.42" r="6" fill="#df3224"/><circle cx="329.89" cy="2041.41" r="6" fill="#df3224"/><circle cx="332.72" cy="2042.4" r="6" fill="#df3224"/><circle cx="335.56" cy="2043.39" r="6" fill="#df3224"/><circle cx="338.4" cy="2044.38" r="6" fill="#df3224"/><circle cx="341.24" cy="2045.37" r="6" fill="#df3224"/><circle cx="344.07" cy="2046.36" r="6" fill="#df3224"/><circle cx="346.91" cy="2047.35" r="6" fill="#df3224"/><circle cx="349.75" cy="2046.36" r="6" fill="#df3224"/><circle cx="352.59" cy="2045.37" r="6" fill="#df3224"/><circle cx="355.42" cy="2044.38" r="6" fill="#df3224"/><circle cx="358.26" cy="2043.39" r="6" fill="#df3224"/><circle cx="361.1" cy="2042.4" r="6" fill="#df3224"/><circle cx="363.94" cy="2041.41" r="6" fill="#df3224"/><circle cx="366.77" cy="2040.42" r="6" fill="#df3224"/><circle cx="369.61" cy="2039.43" r="6" fill="#df3224"/><circle cx="372.45" cy="2038.44" r="6" fill="#df3224"/><circle cx="375.29" cy="2037.45" r="6" fill="#df3224"/><circle cx="378.12" cy="2036.46" r="6" fill="#df3224"/><circle cx="380.96" cy="2035.48" r="6" fill="#df3224"/><circle cx="383.8" cy="2034.49" r="6" fill="#df3224"/><circle cx="324.61" cy="2037.51" r="6" fill="#df3224"/><circle cx="327.79" cy="2038.63" r="6" fill="#df3224"/><circle cx="330.98" cy="2039.74" r="6" fill="#df3224"/><circle cx="334.17" cy="2040.85" r="6" fill="#df3224"/><circle cx="337.35" cy="2041.96" r="6" fill="#df3224"/><circle cx="340.54" cy="2043.07" r="6" fill="#df3224"/><circle cx="343.73" cy="2044.18" r="6" fill="#df3224"/><circle cx="346.91" cy="2045.29" r="6" fill="#df3224"/><circle cx="350.1" cy="2044.18" r="6" fill="#df3224"/><circle cx="353.28" cy="2043.07" r="6" fill="#df3224"/><circle cx="356.47" cy="2041.96" r="6" fill="#df3224"/><circle cx="359.66" cy="2040.85" r="6" fill="#df3224"/><circle cx="362.84" cy="2039.74" r="6" fill="#df3224"/><circle cx="366.03" cy="2038.63" r="6" fill="#df3224"/><circle cx="369.22" cy="2037.51" r="6" fill="#df3224"/><circle cx="324.61" cy="2041.63" r="6" fill="#df3224"/><circle cx="327.79" cy="2042.74" r="6" fill="#df3224"/><circle cx="330.98" cy="2043.85" r="6" fill="#df3224"/><circle cx="334.17" cy="2044.97" r="6" fill="#df3224"/><circle cx="337.35" cy="2046.08" r="6" fill="#df3224"/><circle cx="340.54" cy="2047.19" r="6" fill="#df3224"/><circle cx="343.73" cy="2048.3" r="6" fill="#df3224"/><circle cx="346.91" cy="2049.41" r="6" fill="#df3224"/><circle cx="350.1" cy="2048.3" r="6" fill="#df3224"/><circle cx="353.28" cy="2047.19" r="6" fill="#df3224"/><circle cx="356.47" cy="2046.08" r="6" fill="#df3224"/><circle cx="359.66" cy="2044.97" r="6" fill="#df3224"/><circle cx="362.84" cy="2043.85" r="6" fill="#df3224"/><circle cx="366.03" cy="2042.74" r="6" fill="#df3224"/><circle cx="369.22" cy="2041.63" r="6" fill="#df3224"/><circle cx="309.17" cy="2055.07" r="6" fill="#df3224"/><circle cx="312.07" cy="2055.93" r="6" fill="#df3224"/><circle cx="314.97" cy="2056.79" r="6" fill="#df3224"/><circle cx="317.88" cy="2057.65" r="6" fill="#df3224"/><circle cx="320.78" cy="2058.5" r="6" fill="#df3224"/><circle cx="323.68" cy="2059.36" r="6" fill="#df3224"/><circle cx="326.59" cy="2060.22" r="6" fill="#df3224"/><circle cx="329.49" cy="2061.08" r="6" fill="#df3224"/><circle cx="332.39" cy="2061.94" r="6" fill="#df3224"/><circle cx="335.3" cy="2062.79" r="6" fill="#df3224"/><circle cx="338.2" cy="2063.65" r="6" fill="#df3224"/><circle cx="341.1" cy="2064.51" r="6" fill="#df3224"/><circle cx="344.01" cy="2065.37" r="6" fill="#df3224"/><circle cx="346.91" cy="2066.23" r="6" fill="#df3224"/><circle cx="349.82" cy="2065.37" r="6" fill="#df3224"/><circle cx="352.72" cy="2064.51" r="6" fill="#df3224"/><circle cx="355.62" cy="2063.65" r="6" fill="#df3224"/><circle cx="358.53" cy="2062.79" r="6" fill="#df3224"/><circle cx="361.43" cy="2061.94" r="6" fill="#df3224"/><circle cx="364.33" cy="2061.08" r="6" fill="#df3224"/><circle cx="367.24" cy="2060.22" r="6" fill="#df3224"/><circle cx="370.14" cy="2059.36" r="6" fill="#df3224"/><circle cx="373.04" cy="2058.5" r="6" fill="#df3224"/><circle cx="375.95" cy="2057.65" r="6" fill="#df3224"/><circle cx="378.85" cy="2056.79" r="6" fill="#df3224"/><circle cx="381.75" cy="2055.93" r="6" fill="#df3224"/><circle cx="384.66" cy="2055.07" r="6" fill="#df3224"/><circle cx="324.61" cy="2057.58" r="6" fill="#df3224"/><circle cx="327.79" cy="2058.52" r="6" fill="#df3224"/><circle cx="330.98" cy="2059.46" r="6" fill="#df3224"/><circle cx="334.17" cy="2060.4" r="6" fill="#df3224"/><circle cx="337.35" cy="2061.34" r="6" fill="#df3224"/><circle cx="340.54" cy="2062.28" r="6" fill="#df3224"/><circle cx="343.73" cy="2063.23" r="6" fill="#df3224"/><circle cx="346.91" cy="2064.17" r="6" fill="#df3224"/><circle cx="350.1" cy="2063.23" r="6" fill="#df3224"/><circle cx="353.28" cy="2062.28" r="6" fill="#df3224"/><circle cx="356.47" cy="2061.34" r="6" fill="#df3224"/><circle cx="359.66" cy="2060.4" r="6" fill="#df3224"/><circle cx="362.84" cy="2059.46" r="6" fill="#df3224"/><circle cx="366.03" cy="2058.52" r="6" fill="#df3224"/><circle cx="369.22" cy="2057.58" r="6" fill="#df3224"/><circle cx="324.61" cy="2061.69" r="6" fill="#df3224"/><circle cx="327.79" cy="2062.64" r="6" fill="#df3224"/><circle cx="330.98" cy="2063.58" r="6" fill="#df3224"/><circle cx="334.17" cy="2064.52" r="6" fill="#df3224"/><circle cx="337.35" cy="2065.46" r="6" fill="#df3224"/><circle cx="340.54" cy="2066.4" r="6" fill="#df3224"/><circle cx="343.73" cy="2067.34" r="6" fill="#df3224"/><circle cx="346.91" cy="2068.28" r="6" fill="#df3224"/><circle cx="350.1" cy="2067.34" r="6" fill="#df3224"/><circle cx="353.28" cy="2066.4" r="6" fill="#df3224"/><circle cx="356.47" cy="2065.46" r="6" fill="#df3224"/><circle cx="359.66" cy="2064.52" r="6" fill="#df3224"/><circle cx="362.84" cy="2063.58" r="6" fill="#df3224"/><circle cx="366.03" cy="2062.64" r="6" fill="#df3224"/><circle cx="369.22" cy="2061.69" r="6" fill="#df3224"/><circle cx="309.17" cy="2069.66" r="6" fill="#df3224"/><circle cx="312.07" cy="2070.45" r="6" fill="#df3224"/><circle cx="314.97" cy="2071.24" r="6" fill="#df3224"/><circle cx="317.88" cy="2072.03" r="6" fill="#df3224"/><circle cx="320.78" cy="2072.82" r="6" fill="#df3224"/><circle cx="323.68" cy="2073.62" r="6" fill="#df3224"/><circle cx="326.59" cy="2074.41" r="6" fill="#df3224"/><circle cx="329.49" cy="2075.2" r="6" fill="#df3224"/><circle cx="332.39" cy="2075.99" r="6" fill="#df3224"/><circle cx="335.3" cy="2076.78" r="6" fill="#df3224"/><circle cx="338.2" cy="2077.58" r="6" fill="#df3224"/><circle cx="341.1" cy="2078.37" r="6" fill="#df3224"/><circle cx="344.01" cy="2079.16" r="6" fill="#df3224"/><circle cx="346.91" cy="2079.95" r="6" fill="#df3224"/><circle cx="349.82" cy="2079.16" r="6" fill="#df3224"/><circle cx="352.72" cy="2078.37" r="6" fill="#df3224"/><circle cx="355.62" cy="2077.58" r="6" fill="#df3224"/><circle cx="358.53" cy="2076.78" r="6" fill="#df3224"/><circle cx="361.43" cy="2075.99" r="6" fill="#df3224"/><circle cx="364.33" cy="2075.2" r="6" fill="#df3224"/><circle cx="367.24" cy="2074.41" r="6" fill="#df3224"/><circle cx="370.14" cy="2073.62" r="6" fill="#df3224"/><circle cx="373.04" cy="2072.82" r="6" fill="#df3224"/><circle cx="375.95" cy="2072.03" r="6" fill="#df3224"/><circle cx="378.85" cy="2071.24" r="6" fill="#df3224"/><circle cx="381.75" cy="2070.45" r="6" fill="#df3224"/><circle cx="384.66" cy="2069.66" r="6" fill="#df3224"/><circle cx="324.61" cy="2071.81" r="6" fill="#df3224"/><circle cx="327.79" cy="2072.68" r="6" fill="#df3224"/><circle cx="330.98" cy="2073.55" r="6" fill="#df3224"/><circle cx="334.17" cy="2074.42" r="6" fill="#df3224"/><circle cx="337.35" cy="2075.29" r="6" fill="#df3224"/><circle cx="340.54" cy="2076.15" r="6" fill="#df3224"/><circle cx="343.73" cy="2077.02" r="6" fill="#df3224"/><circle cx="346.91" cy="2077.89" r="6" fill="#df3224"/><circle cx="350.1" cy="2077.02" r="6" fill="#df3224"/><circle cx="353.28" cy="2076.15" r="6" fill="#df3224"/><circle cx="356.47" cy="2075.29" r="6" fill="#df3224"/><circle cx="359.66" cy="2074.42" r="6" fill="#df3224"/><circle cx="362.84" cy="2073.55" r="6" fill="#df3224"/><circle cx="366.03" cy="2072.68" r="6" fill="#df3224"/><circle cx="369.22" cy="2071.81" r="6" fill="#df3224"/><circle cx="324.61" cy="2075.93" r="6" fill="#df3224"/><circle cx="327.79" cy="2076.8" r="6" fill="#df3224"/><circle cx="330.98" cy="2077.66" r="6" fill="#df3224"/><circle cx="334.17" cy="2078.53" r="6" fill="#df3224"/><circle cx="337.35" cy="2079.4" r="6" fill="#df3224"/><circle cx="340.54" cy="2080.27" r="6" fill="#df3224"/><circle cx="343.73" cy="2081.14" r="6" fill="#df3224"/><circle cx="346.91" cy="2082.01" r="6" fill="#df3224"/><circle cx="350.1" cy="2081.14" r="6" fill="#df3224"/><circle cx="353.28" cy="2080.27" r="6" fill="#df3224"/><circle cx="356.47" cy="2079.4" r="6" fill="#df3224"/><circle cx="359.66" cy="2078.53" r="6" fill="#df3224"/><circle cx="362.84" cy="2077.66" r="6" fill="#df3224"/><circle cx="366.03" cy="2076.8" r="6" fill="#df3224"/><circle cx="369.22" cy="2075.93" r="6" fill="#df3224"/><circle cx="308.31" cy="2088.53" r="6" fill="#df3224"/><circle cx="311.28" cy="2089.32" r="6" fill="#df3224"/><circle cx="314.25" cy="2090.11" r="6" fill="#df3224"/><circle cx="317.22" cy="2090.9" r="6" fill="#df3224"/><circle cx="320.19" cy="2091.7" r="6" fill="#df3224"/><circle cx="323.16" cy="2092.49" r="6" fill="#df3224"/><circle cx="326.13" cy="2093.28" r="6" fill="#df3224"/><circle cx="329.1" cy="2094.07" r="6" fill="#df3224"/><circle cx="332.06" cy="2094.86" r="6" fill="#df3224"/><circle cx="335.03" cy="2095.66" r="6" fill="#df3224"/><circle cx="338" cy="2096.45" r="6" fill="#df3224"/><circle cx="340.97" cy="2097.24" r="6" fill="#df3224"/><circle cx="343.94" cy="2098.03" r="6" fill="#df3224"/><circle cx="346.91" cy="2098.82" r="6" fill="#df3224"/><circle cx="349.88" cy="2098.03" r="6" fill="#df3224"/><circle cx="352.85" cy="2097.24" r="6" fill="#df3224"/><circle cx="355.82" cy="2096.45" r="6" fill="#df3224"/><circle cx="358.79" cy="2095.66" r="6" fill="#df3224"/><circle cx="361.76" cy="2094.86" r="6" fill="#df3224"/><circle cx="364.73" cy="2094.07" r="6" fill="#df3224"/><circle cx="367.7" cy="2093.28" r="6" fill="#df3224"/><circle cx="370.67" cy="2092.49" r="6" fill="#df3224"/><circle cx="373.64" cy="2091.7" r="6" fill="#df3224"/><circle cx="376.61" cy="2090.9" r="6" fill="#df3224"/><circle cx="379.58" cy="2090.11" r="6" fill="#df3224"/><circle cx="382.55" cy="2089.32" r="6" fill="#df3224"/><circle cx="385.51" cy="2088.53" r="6" fill="#df3224"/><circle cx="324.61" cy="2090.82" r="6" fill="#df3224"/><circle cx="327.79" cy="2091.67" r="6" fill="#df3224"/><circle cx="330.98" cy="2092.52" r="6" fill="#df3224"/><circle cx="334.17" cy="2093.37" r="6" fill="#df3224"/><circle cx="337.35" cy="2094.22" r="6" fill="#df3224"/><circle cx="340.54" cy="2095.07" r="6" fill="#df3224"/><circle cx="343.73" cy="2095.92" r="6" fill="#df3224"/><circle cx="346.91" cy="2096.76" r="6" fill="#df3224"/><circle cx="350.1" cy="2095.92" r="6" fill="#df3224"/><circle cx="353.28" cy="2095.07" r="6" fill="#df3224"/><circle cx="356.47" cy="2094.22" r="6" fill="#df3224"/><circle cx="359.66" cy="2093.37" r="6" fill="#df3224"/><circle cx="362.84" cy="2092.52" r="6" fill="#df3224"/><circle cx="366.03" cy="2091.67" r="6" fill="#df3224"/><circle cx="369.22" cy="2090.82" r="6" fill="#df3224"/><circle cx="324.61" cy="2094.93" r="6" fill="#df3224"/><circle cx="327.79" cy="2095.78" r="6" fill="#df3224"/><circle cx="330.98" cy="2096.63" r="6" fill="#df3224"/><circle cx="334.17" cy="2097.48" r="6" fill="#df3224"/><circle cx="337.35" cy="2098.33" r="6" fill="#df3224"/><circle cx="340.54" cy="2099.18" r="6" fill="#df3224"/><circle cx="343.73" cy="2100.03" r="6" fill="#df3224"/><circle cx="346.91" cy="2100.88" r="6" fill="#df3224"/><circle cx="350.1" cy="2100.03" r="6" fill="#df3224"/><circle cx="353.28" cy="2099.18" r="6" fill="#df3224"/><circle cx="356.47" cy="2098.33" r="6" fill="#df3224"/><circle cx="359.66" cy="2097.48" r="6" fill="#df3224"/><circle cx="362.84" cy="2096.63" r="6" fill="#df3224"/><circle cx="366.03" cy="2095.78" r="6" fill="#df3224"/><circle cx="369.22" cy="2094.93" r="6" fill="#df3224"/><circle cx="314.31" cy="2103.11" r="6" fill="#df3224"/><circle cx="316.82" cy="2104.1" r="6" fill="#df3224"/><circle cx="319.33" cy="2105.09" r="6" fill="#df3224"/><circle cx="321.84" cy="2106.08" r="6" fill="#df3224"/><circle cx="324.34" cy="2107.07" r="6" fill="#df3224"/><circle cx="326.85" cy="2108.06" r="6" fill="#df3224"/><circle cx="329.36" cy="2109.05" r="6" fill="#df3224"/><circle cx="331.87" cy="2110.04" r="6" fill="#df3224"/><circle cx="334.37" cy="2111.03" r="6" fill="#df3224"/><circle cx="336.88" cy="2112.02" r="6" fill="#df3224"/><circle cx="339.39" cy="2113.01" r="6" fill="#df3224"/><circle cx="341.9" cy="2114" r="6" fill="#df3224"/><circle cx="344.4" cy="2114.99" r="6" fill="#df3224"/><circle cx="346.91" cy="2115.98" r="6" fill="#df3224"/><circle cx="349.42" cy="2114.99" r="6" fill="#df3224"/><circle cx="351.93" cy="2114" r="6" fill="#df3224"/><circle cx="354.43" cy="2113.01" r="6" fill="#df3224"/><circle cx="356.94" cy="2112.02" r="6" fill="#df3224"/><circle cx="359.45" cy="2111.03" r="6" fill="#df3224"/><circle cx="361.96" cy="2110.04" r="6" fill="#df3224"/><circle cx="364.46" cy="2109.05" r="6" fill="#df3224"/><circle cx="366.97" cy="2108.06" r="6" fill="#df3224"/><circle cx="369.48" cy="2107.07" r="6" fill="#df3224"/><circle cx="371.99" cy="2106.08" r="6" fill="#df3224"/><circle cx="374.49" cy="2105.09" r="6" fill="#df3224"/><circle cx="377" cy="2104.1" r="6" fill="#df3224"/><circle cx="379.51" cy="2103.11" r="6" fill="#df3224"/><circle cx="324.61" cy="2105.12" r="6" fill="#df3224"/><circle cx="327.79" cy="2106.38" r="6" fill="#df3224"/><circle cx="330.98" cy="2107.63" r="6" fill="#df3224"/><circle cx="334.17" cy="2108.89" r="6" fill="#df3224"/><circle cx="337.35" cy="2110.15" r="6" fill="#df3224"/><circle cx="340.54" cy="2111.41" r="6" fill="#df3224"/><circle cx="343.73" cy="2112.66" r="6" fill="#df3224"/><circle cx="346.91" cy="2113.92" r="6" fill="#df3224"/><circle cx="350.1" cy="2112.66" r="6" fill="#df3224"/><circle cx="353.28" cy="2111.41" r="6" fill="#df3224"/><circle cx="356.47" cy="2110.15" r="6" fill="#df3224"/><circle cx="359.66" cy="2108.89" r="6" fill="#df3224"/><circle cx="362.84" cy="2107.63" r="6" fill="#df3224"/><circle cx="366.03" cy="2106.38" r="6" fill="#df3224"/><circle cx="369.22" cy="2105.12" r="6" fill="#df3224"/><circle cx="324.61" cy="2109.24" r="6" fill="#df3224"/><circle cx="327.79" cy="2110.49" r="6" fill="#df3224"/><circle cx="330.98" cy="2111.75" r="6" fill="#df3224"/><circle cx="334.17" cy="2113.01" r="6" fill="#df3224"/><circle cx="337.35" cy="2114.27" r="6" fill="#df3224"/><circle cx="340.54" cy="2115.52" r="6" fill="#df3224"/><circle cx="343.73" cy="2116.78" r="6" fill="#df3224"/><circle cx="346.91" cy="2118.04" r="6" fill="#df3224"/><circle cx="350.1" cy="2116.78" r="6" fill="#df3224"/><circle cx="353.28" cy="2115.52" r="6" fill="#df3224"/><circle cx="356.47" cy="2114.27" r="6" fill="#df3224"/><circle cx="359.66" cy="2113.01" r="6" fill="#df3224"/><circle cx="362.84" cy="2111.75" r="6" fill="#df3224"/><circle cx="366.03" cy="2110.49" r="6" fill="#df3224"/><circle cx="369.22" cy="2109.24" r="6" fill="#df3224"/><circle cx="331.47" cy="1961.57" r="6" fill="#df3224"/><circle cx="336.62" cy="1963.86" r="6" fill="#df3224"/><circle cx="341.76" cy="1966.14" r="6" fill="#df3224"/><circle cx="346.91" cy="1968.43" r="6" fill="#df3224"/><circle cx="352.06" cy="1966.14" r="6" fill="#df3224"/><circle cx="357.21" cy="1963.86" r="6" fill="#df3224"/><circle cx="362.35" cy="1961.57" r="6" fill="#df3224"/><circle cx="346.91" cy="2122.84" r="6" fill="#e5583b" fill-opacity="0.95"/>
<path d="M133.8 1757.3V2135.2M131.2 2132.6H435.1" fill="none" stroke="#000" stroke-width="5.2"/>
<line x1="124" y1="1759.9" x2="133.8" y2="1759.9" stroke="#000" stroke-width="4.8"/>
<text transform="translate(120.6 1768.2) scale(1 1.04)" font-size="23.5" text-anchor="end" font-weight="bold" fill="#000" stroke="#000" stroke-width="0.2">8</text>
<line x1="124" y1="1853.08" x2="133.8" y2="1853.08" stroke="#000" stroke-width="4.8"/>
<text transform="translate(120.6 1861.38) scale(1 1.04)" font-size="23.5" text-anchor="end" font-weight="bold" fill="#000" stroke="#000" stroke-width="0.2">6</text>
<line x1="124" y1="1946.26" x2="133.8" y2="1946.26" stroke="#000" stroke-width="4.8"/>
<text transform="translate(120.6 1954.56) scale(1 1.04)" font-size="23.5" text-anchor="end" font-weight="bold" fill="#000" stroke="#000" stroke-width="0.2">4</text>
<line x1="124" y1="2039.44" x2="133.8" y2="2039.44" stroke="#000" stroke-width="4.8"/>
<text transform="translate(120.6 2047.74) scale(1 1.04)" font-size="23.5" text-anchor="end" font-weight="bold" fill="#000" stroke="#000" stroke-width="0.2">2</text>
<line x1="124" y1="2132.62" x2="133.8" y2="2132.62" stroke="#000" stroke-width="4.8"/>
<text transform="translate(120.6 2140.92) scale(1 1.04)" font-size="23.5" text-anchor="end" font-weight="bold" fill="#000" stroke="#000" stroke-width="0.2">0</text>
<line x1="219" y1="2132.6" x2="219" y2="2142.9" stroke="#000" stroke-width="4.8"/>
<line x1="346.8" y1="2132.6" x2="346.8" y2="2142.9" stroke="#000" stroke-width="4.8"/>
<text transform="translate(220.1 2172.1) scale(1 1.04)" font-size="28.3" text-anchor="middle" font-weight="bold" fill="#000" stroke="#000" stroke-width="0.2">Normal</text>
<text transform="translate(348 2172.1) scale(1 1.04)" font-size="28.5" text-anchor="middle" font-weight="bold" fill="#000" stroke="#000" stroke-width="0.2">Tumor</text>
<text transform="translate(84.7 1946) rotate(-90) scale(1 1.04)" font-size="35.9" text-anchor="middle" stroke="#231815" stroke-width="0.45">Relative FOXC1 expression</text>
<path d="M214.3 1798.1V1787.8H353V1798.1" fill="none" stroke="#111" stroke-width="2.6" stroke-linejoin="miter"/>
<text transform="translate(282.88 1782.5) scale(1 1.04)" font-size="33" text-anchor="middle" font-weight="bold" stroke="#231815" stroke-width="0.45" letter-spacing="2.75">***</text>
</g>
<g id="p-i">
<text transform="translate(492.5 1729) scale(1 1.04)" font-size="39.5" stroke="#231815" stroke-width="0.45">I</text>
<line x1="758.1" y1="1963.54" x2="905.75" y2="2065.47" stroke="#000" stroke-width="5"/>
<g fill="#475db4" fill-opacity="0.9"><circle cx="824.86" cy="2079.96" r="5.4"/><circle cx="860.26" cy="2045.44" r="5.4"/><circle cx="839.63" cy="2082.79" r="5.4"/><circle cx="831.14" cy="2100.29" r="5.4"/><circle cx="872.76" cy="2066.21" r="5.4"/><circle cx="878.91" cy="2098.09" r="5.4"/><circle cx="849.1" cy="2051.12" r="5.4"/><circle cx="881.35" cy="2097.15" r="5.4"/><circle cx="864.42" cy="2076.03" r="5.4"/><circle cx="851.29" cy="2096.56" r="5.4"/><circle cx="867.07" cy="2099.45" r="5.4"/><circle cx="833.99" cy="2046.55" r="5.4"/><circle cx="850.02" cy="2067.25" r="5.4"/><circle cx="858.37" cy="2044.42" r="5.4"/><circle cx="875.91" cy="2094.63" r="5.4"/><circle cx="857.7" cy="2097.81" r="5.4"/><circle cx="850.31" cy="2098.5" r="5.4"/><circle cx="880.57" cy="2075.08" r="5.4"/><circle cx="870.85" cy="2105.68" r="5.4"/><circle cx="854.84" cy="2105.71" r="5.4"/><circle cx="876.33" cy="2095.15" r="5.4"/><circle cx="844.85" cy="2088.25" r="5.4"/><circle cx="869.8" cy="2038.85" r="5.4"/><circle cx="851.41" cy="2083.13" r="5.4"/><circle cx="846.58" cy="2064.67" r="5.4"/><circle cx="844.67" cy="2039.59" r="5.4"/><circle cx="875.86" cy="2053.68" r="5.4"/><circle cx="864.87" cy="2097.06" r="5.4"/><circle cx="823.37" cy="2082.51" r="5.4"/><circle cx="847.09" cy="2084.95" r="5.4"/><circle cx="872.09" cy="2052.2" r="5.4"/><circle cx="851.97" cy="2058.64" r="5.4"/><circle cx="838.37" cy="2099.15" r="5.4"/><circle cx="869.78" cy="2051.67" r="5.4"/><circle cx="879.5" cy="2071.87" r="5.4"/><circle cx="831.74" cy="2079.83" r="5.4"/><circle cx="845.11" cy="2073.51" r="5.4"/><circle cx="867.59" cy="2087.7" r="5.4"/><circle cx="847.89" cy="2051.26" r="5.4"/><circle cx="854.96" cy="2057.02" r="5.4"/><circle cx="856.84" cy="2062.4" r="5.4"/><circle cx="850.51" cy="2042.53" r="5.4"/><circle cx="881.11" cy="2070.89" r="5.4"/><circle cx="825.8" cy="2100.13" r="5.4"/><circle cx="854.09" cy="2070.64" r="5.4"/><circle cx="847.21" cy="2095.95" r="5.4"/><circle cx="848.21" cy="2060.46" r="5.4"/><circle cx="850.09" cy="2074.23" r="5.4"/><circle cx="849.35" cy="2039.36" r="5.4"/><circle cx="840.61" cy="2061.1" r="5.4"/><circle cx="851.31" cy="2049.88" r="5.4"/><circle cx="830.78" cy="2102.19" r="5.4"/><circle cx="860.99" cy="2093.4" r="5.4"/><circle cx="868.39" cy="2085.77" r="5.4"/><circle cx="866.76" cy="2096.85" r="5.4"/><circle cx="839.41" cy="2102.77" r="5.4"/><circle cx="860.02" cy="2038.47" r="5.4"/><circle cx="837.02" cy="2080.13" r="5.4"/><circle cx="869.14" cy="2060.63" r="5.4"/><circle cx="875.44" cy="2060.59" r="5.4"/><circle cx="853" cy="2087.4" r="5.4"/><circle cx="850.4" cy="2071.44" r="5.4"/><circle cx="859.96" cy="2039.39" r="5.4"/><circle cx="852.98" cy="2101.54" r="5.4"/><circle cx="851.35" cy="2043.18" r="5.4"/><circle cx="865.41" cy="2103.07" r="5.4"/><circle cx="867.27" cy="2101.64" r="5.4"/><circle cx="873.06" cy="2062.05" r="5.4"/><circle cx="878.35" cy="2047.7" r="5.4"/><circle cx="845.34" cy="2095.29" r="5.4"/><circle cx="835.54" cy="2043.74" r="5.4"/><circle cx="840.69" cy="2086.65" r="5.4"/><circle cx="845.05" cy="2064.43" r="5.4"/><circle cx="834.75" cy="2085.13" r="5.4"/><circle cx="850.25" cy="2077.16" r="5.4"/><circle cx="862.14" cy="2081.12" r="5.4"/><circle cx="844.07" cy="2101.39" r="5.4"/><circle cx="849.01" cy="2064.87" r="5.4"/><circle cx="863.39" cy="2037.01" r="5.4"/><circle cx="861.69" cy="2102.52" r="5.4"/><circle cx="847.74" cy="2084.94" r="5.4"/><circle cx="875.72" cy="2040.47" r="5.4"/><circle cx="863.04" cy="2068.25" r="5.4"/><circle cx="886.73" cy="2073.22" r="5.4"/><circle cx="827.81" cy="2055.7" r="5.4"/><circle cx="852.07" cy="2038.96" r="5.4"/><circle cx="838.55" cy="2103.15" r="5.4"/><circle cx="855.13" cy="2088.93" r="5.4"/><circle cx="822.68" cy="2054.51" r="5.4"/><circle cx="840.2" cy="2092.22" r="5.4"/><circle cx="831.53" cy="2054.2" r="5.4"/><circle cx="855.54" cy="2095.23" r="5.4"/><circle cx="848.9" cy="2054.82" r="5.4"/><circle cx="869.09" cy="2070.79" r="5.4"/><circle cx="839.26" cy="2086.79" r="5.4"/><circle cx="868.5" cy="2038.69" r="5.4"/><circle cx="853.73" cy="2089.62" r="5.4"/><circle cx="854.66" cy="2039.66" r="5.4"/><circle cx="857.27" cy="2105.86" r="5.4"/><circle cx="854.13" cy="2063.8" r="5.4"/><circle cx="843.77" cy="2106.23" r="5.4"/><circle cx="849.34" cy="2076.23" r="5.4"/><circle cx="862.71" cy="2044" r="5.4"/><circle cx="851.17" cy="2038.46" r="5.4"/><circle cx="879.16" cy="2100.8" r="5.4"/><circle cx="853.4" cy="2094.31" r="5.4"/><circle cx="854.44" cy="2060.66" r="5.4"/><circle cx="884.82" cy="2072.52" r="5.4"/><circle cx="845.24" cy="2092.23" r="5.4"/><circle cx="835.54" cy="2057.82" r="5.4"/><circle cx="839.38" cy="2044.09" r="5.4"/><circle cx="873.63" cy="2100.51" r="5.4"/><circle cx="854.78" cy="2042.03" r="5.4"/><circle cx="821.39" cy="2103.26" r="5.4"/><circle cx="868.1" cy="2083.71" r="5.4"/><circle cx="858.7" cy="2057.58" r="5.4"/><circle cx="846.68" cy="2094.56" r="5.4"/><circle cx="862.88" cy="2056.86" r="5.4"/><circle cx="837.83" cy="2100.26" r="5.4"/><circle cx="852.29" cy="2037.67" r="5.4"/><circle cx="863.35" cy="2082.36" r="5.4"/><circle cx="848.08" cy="2085.65" r="5.4"/><circle cx="837.82" cy="2096.3" r="5.4"/><circle cx="883.77" cy="2062.56" r="5.4"/><circle cx="851.68" cy="2037.37" r="5.4"/><circle cx="866.89" cy="2057.77" r="5.4"/><circle cx="860.48" cy="2069.55" r="5.4"/><circle cx="854.12" cy="2094.34" r="5.4"/><circle cx="876.97" cy="2043.38" r="5.4"/><circle cx="833.09" cy="2069.64" r="5.4"/><circle cx="866.96" cy="2092.34" r="5.4"/><circle cx="852.01" cy="2052.77" r="5.4"/><circle cx="859.52" cy="2098.8" r="5.4"/><circle cx="861.27" cy="2069.27" r="5.4"/><circle cx="851.44" cy="2071.76" r="5.4"/><circle cx="847.86" cy="2057.93" r="5.4"/><circle cx="856.08" cy="2104.15" r="5.4"/><circle cx="841.21" cy="2095.68" r="5.4"/><circle cx="864.49" cy="2060" r="5.4"/><circle cx="835.58" cy="2103.86" r="5.4"/><circle cx="845.92" cy="2085.26" r="5.4"/><circle cx="875.04" cy="2094.48" r="5.4"/><circle cx="849.18" cy="2036" r="5.4"/><circle cx="853.87" cy="2070.29" r="5.4"/><circle cx="867.79" cy="2103.85" r="5.4"/><circle cx="834.94" cy="2055.03" r="5.4"/><circle cx="844.66" cy="2048.22" r="5.4"/><circle cx="843.94" cy="2038.53" r="5.4"/><circle cx="845.82" cy="2039.11" r="5.4"/><circle cx="873.74" cy="2093.62" r="5.4"/><circle cx="851.99" cy="2048.58" r="5.4"/><circle cx="843.16" cy="2080.3" r="5.4"/><circle cx="852.4" cy="2066.41" r="5.4"/><circle cx="860.48" cy="2103.51" r="5.4"/><circle cx="856.45" cy="2089.61" r="5.4"/><circle cx="842.83" cy="2097.44" r="5.4"/><circle cx="848.81" cy="2079.28" r="5.4"/><circle cx="879.42" cy="2040.36" r="5.4"/><circle cx="849.8" cy="2061.28" r="5.4"/><circle cx="852.55" cy="2100.22" r="5.4"/><circle cx="855.74" cy="2070.93" r="5.4"/><circle cx="856.5" cy="2059.62" r="5.4"/><circle cx="879.16" cy="2041.63" r="5.4"/><circle cx="853.29" cy="2064.88" r="5.4"/><circle cx="876.88" cy="2104.03" r="5.4"/><circle cx="868.52" cy="2072.64" r="5.4"/><circle cx="835.67" cy="2068.64" r="5.4"/><circle cx="869.17" cy="2084.31" r="5.4"/><circle cx="837.9" cy="2101.55" r="5.4"/><circle cx="880.64" cy="2071.82" r="5.4"/><circle cx="842.07" cy="2069.21" r="5.4"/><circle cx="888.88" cy="2071.82" r="5.4"/><circle cx="838.47" cy="2064.46" r="5.4"/><circle cx="867.14" cy="2043.3" r="5.4"/><circle cx="850.81" cy="2070.17" r="5.4"/><circle cx="866.53" cy="2097.58" r="5.4"/><circle cx="846.56" cy="2057.05" r="5.4"/><circle cx="855.6" cy="2096.08" r="5.4"/><circle cx="845.78" cy="2092.14" r="5.4"/><circle cx="861.4" cy="2045.68" r="5.4"/><circle cx="838.25" cy="2060.16" r="5.4"/><circle cx="838.77" cy="2056.85" r="5.4"/><circle cx="880.98" cy="2040.82" r="5.4"/><circle cx="875.8" cy="2037.86" r="5.4"/><circle cx="834.43" cy="2059.76" r="5.4"/><circle cx="875.63" cy="2065.68" r="5.4"/><circle cx="842.96" cy="2057.32" r="5.4"/><circle cx="850.27" cy="2044.09" r="5.4"/><circle cx="823.98" cy="2054.91" r="5.4"/><circle cx="863.25" cy="2044.99" r="5.4"/><circle cx="862.11" cy="2051.2" r="5.4"/><circle cx="862.7" cy="2092.17" r="5.4"/><circle cx="851.36" cy="2055.11" r="5.4"/><circle cx="854.02" cy="2049.53" r="5.4"/><circle cx="839.86" cy="2101.1" r="5.4"/><circle cx="819.96" cy="2064.47" r="5.4"/><circle cx="861.24" cy="2049.08" r="5.4"/><circle cx="875.49" cy="2083.05" r="5.4"/><circle cx="839.7" cy="2061.12" r="5.4"/><circle cx="833.14" cy="2078.67" r="5.4"/><circle cx="834.94" cy="2065.53" r="5.4"/><circle cx="876.25" cy="2043.43" r="5.4"/><circle cx="832.01" cy="2087.84" r="5.4"/><circle cx="883.37" cy="2039.18" r="5.4"/><circle cx="859.98" cy="2053.8" r="5.4"/><circle cx="845.93" cy="2063.05" r="5.4"/><circle cx="857.88" cy="2060.41" r="5.4"/><circle cx="856.24" cy="2088.1" r="5.4"/><circle cx="875.41" cy="2052.59" r="5.4"/><circle cx="854.55" cy="2062.9" r="5.4"/><circle cx="832.78" cy="2039.45" r="5.4"/><circle cx="823.94" cy="2090.56" r="5.4"/><circle cx="847.1" cy="2073.86" r="5.4"/><circle cx="856.25" cy="2105.35" r="5.4"/><circle cx="846.3" cy="2044.55" r="5.4"/><circle cx="867.01" cy="2037.85" r="5.4"/><circle cx="857.69" cy="2065.83" r="5.4"/><circle cx="863.43" cy="2042.83" r="5.4"/><circle cx="829.6" cy="2092.13" r="5.4"/><circle cx="846.3" cy="2092.21" r="5.4"/><circle cx="853.36" cy="2045.38" r="5.4"/><circle cx="835.65" cy="2084.93" r="5.4"/><circle cx="887.95" cy="2103.83" r="5.4"/><circle cx="848.76" cy="2048.98" r="5.4"/><circle cx="861.64" cy="2081.33" r="5.4"/><circle cx="852.81" cy="2053.52" r="5.4"/><circle cx="855.64" cy="2078.9" r="5.4"/><circle cx="873.32" cy="2074.54" r="5.4"/><circle cx="857.17" cy="2102.55" r="5.4"/><circle cx="856.64" cy="2039.26" r="5.4"/><circle cx="820.69" cy="2098.02" r="5.4"/><circle cx="866.5" cy="2101.29" r="5.4"/><circle cx="844.7" cy="2067.5" r="5.4"/><circle cx="853.71" cy="2082.94" r="5.4"/><circle cx="875.51" cy="2063.51" r="5.4"/><circle cx="836" cy="2059.36" r="5.4"/><circle cx="869.81" cy="2068.81" r="5.4"/><circle cx="887.32" cy="2104.65" r="5.4"/><circle cx="886.94" cy="2052.37" r="5.4"/><circle cx="861.05" cy="2055.13" r="5.4"/><circle cx="835.72" cy="2063.77" r="5.4"/><circle cx="833.21" cy="2071.95" r="5.4"/><circle cx="834.97" cy="2046.01" r="5.4"/><circle cx="855.97" cy="2051.24" r="5.4"/><circle cx="854.04" cy="2052.73" r="5.4"/><circle cx="850.31" cy="2104.16" r="5.4"/><circle cx="828.83" cy="2096.78" r="5.4"/><circle cx="880.89" cy="2051.26" r="5.4"/><circle cx="837.69" cy="2066.14" r="5.4"/><circle cx="832" cy="2089.85" r="5.4"/><circle cx="871.86" cy="2035.86" r="5.4"/><circle cx="881.1" cy="2076.86" r="5.4"/><circle cx="860.76" cy="2071.11" r="5.4"/><circle cx="858.74" cy="2067.68" r="5.4"/><circle cx="824.64" cy="2098.32" r="5.4"/><circle cx="822.74" cy="2051.38" r="5.4"/><circle cx="827.31" cy="2053.41" r="5.4"/><circle cx="828.97" cy="2096.18" r="5.4"/><circle cx="841.42" cy="2050.79" r="5.4"/><circle cx="856.52" cy="2038.38" r="5.4"/><circle cx="887.95" cy="2100.74" r="5.4"/><circle cx="861.22" cy="2100.48" r="5.4"/><circle cx="865.76" cy="2073.46" r="5.4"/><circle cx="844.05" cy="2067.25" r="5.4"/><circle cx="827.7" cy="2103.36" r="5.4"/><circle cx="841.17" cy="2043.93" r="5.4"/><circle cx="862.19" cy="2091.61" r="5.4"/><circle cx="844.3" cy="2065.9" r="5.4"/><circle cx="839.52" cy="2080.67" r="5.4"/><circle cx="852.6" cy="2055.9" r="5.4"/><circle cx="855.9" cy="2008.12" r="5.4"/><circle cx="842.85" cy="1976" r="5.4"/><circle cx="845.42" cy="1971.02" r="5.4"/><circle cx="833.54" cy="2017.23" r="5.4"/><circle cx="831.37" cy="2017.64" r="5.4"/><circle cx="856.82" cy="1992.93" r="5.4"/><circle cx="853.95" cy="2005.02" r="5.4"/><circle cx="859.25" cy="1979.21" r="5.4"/><circle cx="843.77" cy="2018.61" r="5.4"/><circle cx="847.77" cy="2024.51" r="5.4"/><circle cx="840.57" cy="1960.19" r="5.4"/><circle cx="843.36" cy="1972.69" r="5.4"/><circle cx="844.87" cy="2031.47" r="5.4"/><circle cx="838.32" cy="1975.43" r="5.4"/><circle cx="854.05" cy="2024.23" r="5.4"/><circle cx="846.55" cy="2028.93" r="5.4"/><circle cx="831.8" cy="2026.98" r="5.4"/><circle cx="843.73" cy="2008.66" r="5.4"/><circle cx="848.06" cy="2008.34" r="5.4"/><circle cx="857.46" cy="1977.01" r="5.4"/><circle cx="825.99" cy="1970.23" r="5.4"/><circle cx="847.05" cy="2012.18" r="5.4"/><circle cx="851.66" cy="1987.76" r="5.4"/><circle cx="858.82" cy="2018.72" r="5.4"/><circle cx="826.05" cy="1964.69" r="5.4"/><circle cx="867.98" cy="2015.75" r="5.4"/><circle cx="825.62" cy="1991.07" r="5.4"/><circle cx="846.13" cy="1964.88" r="5.4"/><circle cx="825.33" cy="1973.21" r="5.4"/><circle cx="846.7" cy="1999.49" r="5.4"/><circle cx="852.51" cy="1982.8" r="5.4"/><circle cx="826.32" cy="1989.48" r="5.4"/><circle cx="843.81" cy="1977.91" r="5.4"/><circle cx="869.36" cy="1999.42" r="5.4"/><circle cx="840.16" cy="2000.76" r="5.4"/><circle cx="845.3" cy="2032.99" r="5.4"/><circle cx="844.26" cy="2008.85" r="5.4"/><circle cx="846.04" cy="2012.64" r="5.4"/><circle cx="844.51" cy="2017.87" r="5.4"/><circle cx="836.59" cy="2004.83" r="5.4"/><circle cx="840.7" cy="2032.74" r="5.4"/><circle cx="837" cy="1975.1" r="5.4"/><circle cx="869.01" cy="1986.67" r="5.4"/><circle cx="829.6" cy="2004.93" r="5.4"/><circle cx="857.3" cy="2031.13" r="5.4"/><circle cx="872.74" cy="1985.21" r="5.4"/><circle cx="858.92" cy="2029.46" r="5.4"/><circle cx="859.34" cy="2027.55" r="5.4"/><circle cx="846.24" cy="1966.27" r="5.4"/><circle cx="844.81" cy="2022.8" r="5.4"/><circle cx="847.07" cy="1993.92" r="5.4"/><circle cx="866.8" cy="1972.56" r="5.4"/><circle cx="836.99" cy="1970.79" r="5.4"/><circle cx="843.53" cy="1966.61" r="5.4"/><circle cx="832.61" cy="1989.61" r="5.4"/><circle cx="858.58" cy="2001" r="5.4"/><circle cx="863.13" cy="1989.09" r="5.4"/><circle cx="863.71" cy="1982.09" r="5.4"/><circle cx="854.08" cy="2030.72" r="5.4"/><circle cx="850.12" cy="1968.42" r="5.4"/><circle cx="852.02" cy="1996.13" r="5.4"/><circle cx="858.12" cy="1968.39" r="5.4"/><circle cx="862.46" cy="2000.35" r="5.4"/><circle cx="858.43" cy="2026.25" r="5.4"/><circle cx="872.06" cy="1981.11" r="5.4"/><circle cx="853.31" cy="1977.97" r="5.4"/><circle cx="851.42" cy="1971.6" r="5.4"/><circle cx="834.01" cy="1963.33" r="5.4"/><circle cx="864.07" cy="1988.37" r="5.4"/><circle cx="851.31" cy="2026.56" r="5.4"/><circle cx="836.94" cy="1995.35" r="5.4"/><circle cx="831.86" cy="2033.21" r="5.4"/><circle cx="869.45" cy="1968.09" r="5.4"/><circle cx="842.8" cy="2001.07" r="5.4"/><circle cx="851.14" cy="1995.08" r="5.4"/><circle cx="868.25" cy="2033.01" r="5.4"/><circle cx="838.24" cy="1987.3" r="5.4"/><circle cx="862.81" cy="1978.29" r="5.4"/><circle cx="855.75" cy="1996.31" r="5.4"/><circle cx="827.57" cy="2007.52" r="5.4"/><circle cx="863.37" cy="1998.34" r="5.4"/><circle cx="848.29" cy="1975.49" r="5.4"/><circle cx="834.91" cy="1987.61" r="5.4"/><circle cx="846.3" cy="1974.26" r="5.4"/><circle cx="837.43" cy="1994.51" r="5.4"/><circle cx="845.02" cy="1994.83" r="5.4"/><circle cx="849.68" cy="1990.68" r="5.4"/><circle cx="838.26" cy="1968.18" r="5.4"/><circle cx="837.2" cy="1999.73" r="5.4"/><circle cx="841.98" cy="1995.43" r="5.4"/><circle cx="828.53" cy="1964.96" r="5.4"/><circle cx="842.72" cy="1991.31" r="5.4"/><circle cx="851.3" cy="1973.02" r="5.4"/><circle cx="861.24" cy="1994.1" r="5.4"/><circle cx="867.31" cy="1986.22" r="5.4"/><circle cx="849.18" cy="1989.34" r="5.4"/><circle cx="862.53" cy="2027.9" r="5.4"/><circle cx="857.16" cy="1977.97" r="5.4"/><circle cx="834.23" cy="2017.01" r="5.4"/><circle cx="841.4" cy="2031.12" r="5.4"/><circle cx="874.8" cy="1984.96" r="5.4"/><circle cx="850.71" cy="2031.3" r="5.4"/><circle cx="846.48" cy="1977.64" r="5.4"/><circle cx="850.97" cy="2030.57" r="5.4"/><circle cx="839.83" cy="1966.53" r="5.4"/><circle cx="857.78" cy="1965.31" r="5.4"/><circle cx="855.35" cy="1973.69" r="5.4"/><circle cx="862.38" cy="1974.17" r="5.4"/><circle cx="840.93" cy="2003.79" r="5.4"/><circle cx="859.1" cy="2000.69" r="5.4"/><circle cx="841.29" cy="2007.78" r="5.4"/><circle cx="836.37" cy="2017.16" r="5.4"/><circle cx="840.54" cy="1978.6" r="5.4"/><circle cx="842.99" cy="1986.19" r="5.4"/><circle cx="853.64" cy="1962.97" r="5.4"/><circle cx="859.13" cy="1979.76" r="5.4"/><circle cx="836.77" cy="2022.65" r="5.4"/><circle cx="887.37" cy="2023.52" r="5.4"/><circle cx="853.46" cy="2000.56" r="5.4"/><circle cx="869.16" cy="1973.18" r="5.4"/><circle cx="856.3" cy="2024.73" r="5.4"/><circle cx="837.71" cy="2019.45" r="5.4"/><circle cx="839.78" cy="1999.19" r="5.4"/><circle cx="834.46" cy="2024.96" r="5.4"/><circle cx="838.99" cy="2031.65" r="5.4"/><circle cx="850.56" cy="1992.34" r="5.4"/><circle cx="847.72" cy="2001.17" r="5.4"/><circle cx="861.84" cy="1966.63" r="5.4"/><circle cx="857.8" cy="2020.58" r="5.4"/><circle cx="852.55" cy="1993.96" r="5.4"/><circle cx="846.95" cy="2002.4" r="5.4"/><circle cx="843.8" cy="2030.9" r="5.4"/><circle cx="861.43" cy="1980.33" r="5.4"/><circle cx="833.81" cy="2009.51" r="5.4"/><circle cx="857.05" cy="1995.39" r="5.4"/><circle cx="839.46" cy="1983.28" r="5.4"/><circle cx="858.2" cy="1999.69" r="5.4"/><circle cx="824.16" cy="1984.58" r="5.4"/><circle cx="836.06" cy="1991.06" r="5.4"/><circle cx="829.78" cy="1970.83" r="5.4"/><circle cx="856.62" cy="2028.68" r="5.4"/><circle cx="848.78" cy="1998.33" r="5.4"/><circle cx="870.25" cy="2024.33" r="5.4"/><circle cx="857.57" cy="2021.03" r="5.4"/><circle cx="844.35" cy="2010.77" r="5.4"/><circle cx="842.02" cy="1978.17" r="5.4"/><circle cx="850.31" cy="1967.31" r="5.4"/><circle cx="851" cy="2031.64" r="5.4"/><circle cx="863.39" cy="2008.45" r="5.4"/><circle cx="826.7" cy="1966.67" r="5.4"/><circle cx="847.14" cy="2023.41" r="5.4"/><circle cx="851.19" cy="1974.02" r="5.4"/><circle cx="832.57" cy="1987.31" r="5.4"/><circle cx="866.48" cy="1977.65" r="5.4"/><circle cx="827.48" cy="2031.27" r="5.4"/><circle cx="819.85" cy="1987.95" r="5.4"/><circle cx="859.24" cy="1970.95" r="5.4"/><circle cx="852.69" cy="1977.38" r="5.4"/><circle cx="840.35" cy="2017.52" r="5.4"/><circle cx="831.64" cy="2022.38" r="5.4"/><circle cx="835.65" cy="1974.82" r="5.4"/><circle cx="835.48" cy="1998.7" r="5.4"/><circle cx="823.67" cy="1986.09" r="5.4"/><circle cx="854.04" cy="1969.13" r="5.4"/><circle cx="841.93" cy="1980.7" r="5.4"/><circle cx="858.14" cy="1999.86" r="5.4"/><circle cx="835.34" cy="2025.39" r="5.4"/><circle cx="866.52" cy="2014.08" r="5.4"/><circle cx="823.13" cy="2002.92" r="5.4"/><circle cx="849.94" cy="2033.61" r="5.4"/><circle cx="824.97" cy="1953.67" r="5.4"/><circle cx="840.92" cy="1958.75" r="5.4"/><circle cx="845.91" cy="1953.99" r="5.4"/><circle cx="867.48" cy="1932.99" r="5.4"/><circle cx="846.56" cy="1935.31" r="5.4"/><circle cx="854.43" cy="1939.59" r="5.4"/><circle cx="858.95" cy="1958.35" r="5.4"/><circle cx="856.05" cy="1944.41" r="5.4"/><circle cx="834.15" cy="1925.86" r="5.4"/><circle cx="845.22" cy="1948.37" r="5.4"/><circle cx="832.82" cy="1925.86" r="5.4"/><circle cx="842.73" cy="1938.33" r="5.4"/><circle cx="836.83" cy="1936.54" r="5.4"/><circle cx="833.21" cy="1954.1" r="5.4"/><circle cx="834.45" cy="1935.03" r="5.4"/><circle cx="828.64" cy="1941.55" r="5.4"/><circle cx="851.64" cy="1925.88" r="5.4"/><circle cx="847.26" cy="1937.67" r="5.4"/><circle cx="832.48" cy="1936.82" r="5.4"/><circle cx="863.83" cy="1951.72" r="5.4"/><circle cx="861.94" cy="1944.48" r="5.4"/><circle cx="855.47" cy="1927.64" r="5.4"/><circle cx="852.28" cy="1940.99" r="5.4"/><circle cx="847.7" cy="1960.64" r="5.4"/><circle cx="835.88" cy="1929.31" r="5.4"/><circle cx="840.6" cy="1958.25" r="5.4"/><circle cx="854.2" cy="1920.03" r="5.4"/><circle cx="841.2" cy="1918.86" r="5.4"/><circle cx="857.46" cy="1951.46" r="5.4"/><circle cx="834.42" cy="1941.97" r="5.4"/><circle cx="830.13" cy="1955.05" r="5.4"/><circle cx="841.35" cy="1930.56" r="5.4"/><circle cx="829.83" cy="1938.04" r="5.4"/><circle cx="849.5" cy="1954.96" r="5.4"/><circle cx="850.24" cy="1932.22" r="5.4"/><circle cx="856.18" cy="1934.05" r="5.4"/><circle cx="798.53" cy="1947.16" r="5.4"/><circle cx="814.06" cy="2071.78" r="5.4"/><circle cx="803.9" cy="2047.19" r="5.4"/><circle cx="799.91" cy="1937.25" r="5.4"/><circle cx="810.9" cy="2039.15" r="5.4"/><circle cx="816.05" cy="1944.43" r="5.4"/><circle cx="804.39" cy="2025.2" r="5.4"/><circle cx="820.17" cy="2038.09" r="5.4"/><circle cx="812.33" cy="1957.06" r="5.4"/><circle cx="803.13" cy="2002.4" r="5.4"/><circle cx="810.29" cy="2004.87" r="5.4"/><circle cx="809.59" cy="2053.05" r="5.4"/><circle cx="811.78" cy="2063.84" r="5.4"/><circle cx="800.04" cy="2038.29" r="5.4"/><circle cx="819.19" cy="1986.59" r="5.4"/><circle cx="795.68" cy="2029.3" r="5.4"/><circle cx="799.38" cy="1958.56" r="5.4"/><circle cx="811.06" cy="2002.08" r="5.4"/><circle cx="796.09" cy="2033.49" r="5.4"/><circle cx="816.79" cy="2063.65" r="5.4"/><circle cx="790.8" cy="2002.33" r="5.4"/><circle cx="802.94" cy="2020.83" r="5.4"/><circle cx="805.29" cy="2069.08" r="5.4"/><circle cx="793.18" cy="1948.65" r="5.4"/><circle cx="797.27" cy="1956.36" r="5.4"/><circle cx="807.5" cy="1968.68" r="5.4"/><circle cx="791.94" cy="1942.2" r="5.4"/><circle cx="805.42" cy="1963.66" r="5.4"/><circle cx="811.71" cy="2065.74" r="5.4"/><circle cx="800.21" cy="1947.79" r="5.4"/><circle cx="801.32" cy="2054.88" r="5.4"/><circle cx="810.79" cy="1971.39" r="5.4"/><circle cx="811.52" cy="1965.85" r="5.4"/><circle cx="819.1" cy="2060.46" r="5.4"/><circle cx="878.96" cy="1827.26" r="5.4"/><circle cx="849.84" cy="1860.75" r="5.4"/><circle cx="839.64" cy="1879.68" r="5.4"/><circle cx="839.64" cy="1890.74" r="5.4"/><circle cx="839.64" cy="1899.48" r="5.4"/><circle cx="867.31" cy="1905.3" r="5.4"/><circle cx="826.54" cy="1915.49" r="5.4"/><circle cx="829.45" cy="1916.08" r="5.4"/><circle cx="785.19" cy="1928.02" r="5.4"/><circle cx="881.87" cy="1920.45" r="5.4"/><circle cx="871.68" cy="1926.56" r="5.4"/><circle cx="800.33" cy="1935.88" r="5.4"/><circle cx="806.15" cy="1941.7" r="5.4"/><circle cx="789.55" cy="1956.26" r="5.4"/><circle cx="758.1" cy="1970.24" r="5.4"/><circle cx="801.79" cy="1962.09" r="5.4"/><circle cx="791.59" cy="1994.12" r="5.4"/><circle cx="895.85" cy="2013.05" r="5.4"/><circle cx="902.25" cy="2022.66" r="5.4"/><circle cx="900.21" cy="2078.57" r="5.4"/><circle cx="906.04" cy="2103.32" r="5.4"/><circle cx="881.87" cy="2103.32" r="5.4"/><circle cx="855.66" cy="2109.15" r="5.4"/><circle cx="827.99" cy="2098.96" r="5.4"/><circle cx="826.54" cy="2084.4" r="5.4"/><circle cx="798.87" cy="2049.45" r="5.4"/><circle cx="881.87" cy="1965.58" r="5.4"/><circle cx="876.04" cy="1954.81" r="5.4"/><circle cx="883.32" cy="1989.75" r="5.4"/></g>
<path d="M599.4 1766.4V2128.9M589.2 2119.3H952.9" fill="none" stroke="#000" stroke-width="5.2"/>
<line x1="589.2" y1="1769" x2="599.4" y2="1769" stroke="#000" stroke-width="4.8"/>
<text transform="translate(585.3 1778) scale(1 1.04)" font-size="25" text-anchor="end" font-weight="bold" fill="#000" stroke="#000" stroke-width="0.2">8</text>
<line x1="589.2" y1="1856.58" x2="599.4" y2="1856.58" stroke="#000" stroke-width="4.8"/>
<text transform="translate(585.3 1865.58) scale(1 1.04)" font-size="25" text-anchor="end" font-weight="bold" fill="#000" stroke="#000" stroke-width="0.2">6</text>
<line x1="589.2" y1="1944.16" x2="599.4" y2="1944.16" stroke="#000" stroke-width="4.8"/>
<text transform="translate(585.3 1953.16) scale(1 1.04)" font-size="25" text-anchor="end" font-weight="bold" fill="#000" stroke="#000" stroke-width="0.2">4</text>
<line x1="589.2" y1="2031.74" x2="599.4" y2="2031.74" stroke="#000" stroke-width="4.8"/>
<text transform="translate(585.3 2040.74) scale(1 1.04)" font-size="25" text-anchor="end" font-weight="bold" fill="#000" stroke="#000" stroke-width="0.2">2</text>
<line x1="589.2" y1="2119.32" x2="599.4" y2="2119.32" stroke="#000" stroke-width="4.8"/>
<text transform="translate(585.3 2128.32) scale(1 1.04)" font-size="25" text-anchor="end" font-weight="bold" fill="#000" stroke="#000" stroke-width="0.2">0</text>
<text transform="translate(599.4 2157.8) scale(1 1.04)" font-size="25" text-anchor="middle" font-weight="bold" fill="#000" stroke="#000" stroke-width="0.2">0</text>
<line x1="716.37" y1="2119.3" x2="716.37" y2="2128.9" stroke="#000" stroke-width="4.8"/>
<text transform="translate(716.37 2157.8) scale(1 1.04)" font-size="25" text-anchor="middle" font-weight="bold" fill="#000" stroke="#000" stroke-width="0.2">5</text>
<line x1="833.34" y1="2119.3" x2="833.34" y2="2128.9" stroke="#000" stroke-width="4.8"/>
<text transform="translate(833.34 2157.8) scale(1 1.04)" font-size="25" text-anchor="middle" font-weight="bold" fill="#000" stroke="#000" stroke-width="0.2">10</text>
<line x1="950.31" y1="2119.3" x2="950.31" y2="2128.9" stroke="#000" stroke-width="4.8"/>
<text transform="translate(950.31 2157.8) scale(1 1.04)" font-size="25" text-anchor="middle" font-weight="bold" fill="#000" stroke="#000" stroke-width="0.2">15</text>
<text transform="translate(561 2206.6) scale(1 1.04)" font-size="28.3" stroke="#231815" stroke-width="0.45">Relative expression of miR-141-3p</text>
<text transform="translate(513.8 1951.9) rotate(-90) scale(1 1.04)" font-size="27.8" text-anchor="middle" stroke="#231815" stroke-width="0.45">Relative expression of</text>
<text transform="translate(549.3 1951.5) rotate(-90) scale(1 1.04)" font-size="28.5" text-anchor="middle" stroke="#231815" stroke-width="0.45">FOXC1 (log transformed)</text>
<text transform="translate(657 1793.8) scale(1 0.96)" font-size="39" stroke="#231815" stroke-width="0.45">R=-0.28</text>
<text transform="translate(657 1840.4) scale(1 0.96)" font-size="38.5" stroke="#231815" stroke-width="0.45">p&lt;0.01</text>
</g>
<g id="p-j">
<text transform="translate(1026 1730) scale(1 1.04)" font-size="39.5" stroke="#231815" stroke-width="0.45">J</text>
<text transform="translate(1304.4 1778.1) scale(1 1.04)" font-size="32.4" text-anchor="middle" font-weight="bold" fill="#000" stroke="#000" stroke-width="0.2">FUSCC dataset</text>
<path d="M1119.04 1816.31L1128.46 1816.31L1129.27 1821.15L1136.54 1821.69L1137.88 1826.54L1163.46 1827.08L1164.81 1831.92L1176.92 1832.46L1178.27 1838.65L1197.92 1839.19L1199 1844.58L1210.58 1845.38L1211.92 1851.31L1223.23 1852.12L1224.58 1857.5L1284.08 1858.04L1285.15 1863.69L1292.15 1864.77L1293.23 1870.15L1306.96 1870.96L1308.31 1877.69L1328.5 1878.5L1329.85 1884.42L1330.92 1893.31L1433.23 1893.85" fill="none" stroke="#5468c4" stroke-width="3.1" stroke-linejoin="round"/>
<path d="M1159.42 1826.54v-6.5M1176.92 1832.46v-6.5M1198.46 1839.19v-6.5M1209.77 1844.58v-6.5M1220.54 1851.31v-6.5M1229.42 1857.5v-6.5M1248.27 1857.5v-6.5M1302.12 1870.15v-6.5M1328.23 1877.69v-6.5M1333.08 1893.31v-6.5M1335.77 1893.31v-6.5M1338.46 1893.31v-6.5M1341.15 1893.31v-6.5M1343.85 1893.31v-6.5M1346.54 1893.31v-6.5M1349.23 1893.31v-6.5M1351.92 1893.31v-6.5M1361.35 1893.31v-6.5M1368.08 1893.31v-6.5M1376.15 1893.31v-6.5M1379.38 1893.31v-6.5M1382.88 1893.31v-6.5M1396.35 1893.31v-6.5M1428.65 1893.31v-6.5M1433.23 1893.85v-6.5" fill="none" stroke="#5468c4" stroke-width="2.8"/>
<path d="M1119.04 1816.31L1135.19 1816.31L1136.54 1819.81L1140.58 1823.31L1141.92 1829.23L1143.81 1835.96L1145.96 1842.69L1147.85 1849.42L1151.88 1853.46L1154.04 1858.85L1157.54 1862.88L1162.92 1865.58L1164 1873.65L1166.15 1879.04L1172.88 1879.85L1174.77 1885.23L1198.46 1885.77L1199.81 1892.5L1201.69 1897.88L1209.23 1898.69L1210.58 1902.46L1219.46 1903.27L1220.81 1910L1222.69 1914.58L1233.46 1915.38L1234.81 1921.31L1237.5 1925.62L1255.54 1926.15L1257.15 1931L1263.08 1932.08L1264.42 1938.27L1284.62 1939.08L1285.96 1945L1288.65 1949.04L1290.54 1953.08L1297.54 1954.42L1298.62 1959L1307.5 1959.81L1308.85 1965.19L1396.35 1965.19" fill="none" stroke="#e0383a" stroke-width="5" stroke-linejoin="round"/>
<path d="M1249.08 1925.62v-6.5M1261.73 1931v-6.5M1327.69 1965.19v-6.5M1331.19 1965.19v-6.5M1334.69 1965.19v-6.5M1338.19 1965.19v-6.5M1341.69 1965.19v-6.5M1345.19 1965.19v-6.5M1348.69 1965.19v-6.5M1352.19 1965.19v-6.5M1355.69 1965.19v-6.5M1359.19 1965.19v-6.5M1362.69 1965.19v-6.5M1366.19 1965.19v-6.5M1369.69 1965.19v-6.5M1373.19 1965.19v-6.5M1376.69 1965.19v-6.5M1380.19 1965.19v-6.5M1383.69 1965.19v-6.5M1387.19 1965.19v-6.5M1390.69 1965.19v-6.5M1394.19 1965.19v-6.5" fill="none" stroke="#e0383a" stroke-width="3.2"/>
<path d="M1119 1784V2132.9M1109.6 2124H1459.3" fill="none" stroke="#000" stroke-width="5"/>
<line x1="1109.6" y1="1816.3" x2="1119" y2="1816.3" stroke="#000" stroke-width="4.6"/>
<text transform="translate(1106.5 1825.1) scale(1 1.04)" font-size="25.5" text-anchor="end" font-weight="bold" fill="#000" stroke="#000" stroke-width="0.2">100</text>
<line x1="1109.6" y1="1970" x2="1119" y2="1970" stroke="#000" stroke-width="4.6"/>
<text transform="translate(1106.5 1978.8) scale(1 1.04)" font-size="25.5" text-anchor="end" font-weight="bold" fill="#000" stroke="#000" stroke-width="0.2">50</text>
<line x1="1109.6" y1="2124" x2="1119" y2="2124" stroke="#000" stroke-width="4.6"/>
<text transform="translate(1106.5 2132.8) scale(1 1.04)" font-size="25.5" text-anchor="end" font-weight="bold" fill="#000" stroke="#000" stroke-width="0.2">0</text>
<text transform="translate(1119 2162) scale(1 1.04)" font-size="25.5" text-anchor="middle" font-weight="bold" fill="#000" stroke="#000" stroke-width="0.2">0</text>
<line x1="1231.63" y1="2124" x2="1231.63" y2="2132.9" stroke="#000" stroke-width="4.6"/>
<text transform="translate(1232.03 2162) scale(1 1.04)" font-size="25.5" text-anchor="middle" font-weight="bold" fill="#000" stroke="#000" stroke-width="0.2">1000</text>
<line x1="1344.26" y1="2124" x2="1344.26" y2="2132.9" stroke="#000" stroke-width="4.6"/>
<text transform="translate(1344.66 2162) scale(1 1.04)" font-size="25.5" text-anchor="middle" font-weight="bold" fill="#000" stroke="#000" stroke-width="0.2">2000</text>
<line x1="1456.89" y1="2124" x2="1456.89" y2="2132.9" stroke="#000" stroke-width="4.6"/>
<text transform="translate(1457.29 2162) scale(1 1.04)" font-size="25.5" text-anchor="middle" font-weight="bold" fill="#000" stroke="#000" stroke-width="0.2">3000</text>
<text transform="translate(1289.3 2203) scale(1 1.04)" font-size="26.6" text-anchor="middle" font-weight="bold" fill="#000" stroke="#000" stroke-width="0.2">Days</text>
<text transform="translate(1049.8 1953.1) rotate(-90) scale(1 1.04)" font-size="31.1" text-anchor="middle" stroke="#231815" stroke-width="0.45">Overall survival (%)</text>
<text transform="translate(1158 2002.9) scale(1 1.04)" font-size="27.7" font-weight="bold" font-style="italic" fill="#000" stroke="#000" stroke-width="0.2">P=0.008</text>
<line x1="1155.4" y1="2039.8" x2="1191.7" y2="2039.8" stroke="#e0383a" stroke-width="5"/>
<line x1="1173.5" y1="2033.5" x2="1173.5" y2="2040" stroke="#e0383a" stroke-width="3.2"/>
<line x1="1155.4" y1="2081.8" x2="1191.7" y2="2081.8" stroke="#5468c4" stroke-width="3"/>
<line x1="1173.5" y1="2075.5" x2="1173.5" y2="2082" stroke="#5468c4" stroke-width="2.8"/>
<text transform="translate(1214 2050) scale(1 1.04)" font-size="27.4" font-weight="bold" font-style="italic" fill="#000" stroke="#000" stroke-width="0.2">High FOXC1 n=53</text>
<text transform="translate(1213.3 2090.9) scale(1 1.04)" font-size="28" font-weight="bold" font-style="italic" fill="#000" stroke="#000" stroke-width="0.2">Low FOXC1 n=53</text>
</g>
<g id="p-k">
<text transform="translate(1517 1737.1) scale(1 1.04)" font-size="39.5" stroke="#231815" stroke-width="0.45">K</text>
<text transform="translate(1783.4 1797.9) scale(1 0.98)" font-size="35.4" text-anchor="middle" font-weight="bold" fill="#000" stroke="#000" stroke-width="0.2" xml:space="preserve">P&lt;0.01  r=-0.44</text>
<text transform="translate(1778.6 1843.5) scale(1 0.98)" font-size="35.4" text-anchor="middle" font-weight="bold" fill="#000" stroke="#000" stroke-width="0.2">n=74</text>
<line x1="1697.05" y1="1914.01" x2="1858.86" y2="1964.12" stroke="#000" stroke-width="4.8"/>
<g fill="#5468c0" fill-opacity="0.9"><circle cx="1697.05" cy="1892.35" r="5.2"/><circle cx="1698.87" cy="2002.23" r="5.2"/><circle cx="1708.79" cy="1915.32" r="5.2"/><circle cx="1711.92" cy="1903.05" r="5.2"/><circle cx="1715.32" cy="1908.01" r="5.2"/><circle cx="1718.45" cy="1899.66" r="5.2"/><circle cx="1725.76" cy="1900.96" r="5.2"/><circle cx="1730.45" cy="1917.4" r="5.2"/><circle cx="1731.5" cy="1908.01" r="5.2"/><circle cx="1734.11" cy="1954.99" r="5.2"/><circle cx="1741.94" cy="1913.49" r="5.2"/><circle cx="1749.24" cy="1918.71" r="5.2"/><circle cx="1754.46" cy="1915.32" r="5.2"/><circle cx="1757.07" cy="1908.79" r="5.2"/><circle cx="1758.38" cy="1914.01" r="5.2"/><circle cx="1760.99" cy="1917.93" r="5.2"/><circle cx="1762.82" cy="1908.01" r="5.2"/><circle cx="1764.38" cy="1920.54" r="5.2"/><circle cx="1764.38" cy="1931.76" r="5.2"/><circle cx="1762.82" cy="1936.2" r="5.2"/><circle cx="1760.21" cy="1964.38" r="5.2"/><circle cx="1760.21" cy="1998.05" r="5.2"/><circle cx="1769.6" cy="1950.55" r="5.2"/><circle cx="1776.65" cy="1923.15" r="5.2"/><circle cx="1777.43" cy="1930.98" r="5.2"/><circle cx="1780.04" cy="1920.54" r="5.2"/><circle cx="1781.87" cy="1925.76" r="5.2"/><circle cx="1783.96" cy="1917.14" r="5.2"/><circle cx="1783.17" cy="1929.67" r="5.2"/><circle cx="1780.56" cy="1940.11" r="5.2"/><circle cx="1782.65" cy="1944.02" r="5.2"/><circle cx="1784.48" cy="1945.85" r="5.2"/><circle cx="1781.87" cy="1954.46" r="5.2"/><circle cx="1781.35" cy="1983.7" r="5.2"/><circle cx="1785.26" cy="2008.75" r="5.2"/><circle cx="1790.48" cy="1952.38" r="5.2"/><circle cx="1791" cy="1960.99" r="5.2"/><circle cx="1795.7" cy="1910.62" r="5.2"/><circle cx="1796.74" cy="1931.5" r="5.2"/><circle cx="1796.74" cy="1942.2" r="5.2"/><circle cx="1796.22" cy="1959.68" r="5.2"/><circle cx="1800.14" cy="1946.63" r="5.2"/><circle cx="1802.75" cy="1951.07" r="5.2"/><circle cx="1805.36" cy="1955.77" r="5.2"/><circle cx="1810.58" cy="1959.16" r="5.2"/><circle cx="1813.19" cy="1908.27" r="5.2"/><circle cx="1813.71" cy="2016.58" r="5.2"/><circle cx="1822.32" cy="1912.18" r="5.2"/><circle cx="1827.54" cy="1911.4" r="5.2"/><circle cx="1825.45" cy="2008.75" r="5.2"/><circle cx="1828.85" cy="1933.59" r="5.2"/><circle cx="1829.37" cy="1964.12" r="5.2"/><circle cx="1830.15" cy="1979.26" r="5.2"/><circle cx="1831.98" cy="2002.75" r="5.2"/><circle cx="1832.76" cy="1945.33" r="5.2"/><circle cx="1834.07" cy="1953.16" r="5.2"/><circle cx="1834.85" cy="1937.5" r="5.2"/><circle cx="1835.37" cy="1960.99" r="5.2"/><circle cx="1836.68" cy="1966.21" r="5.2"/><circle cx="1838.5" cy="1975.34" r="5.2"/><circle cx="1839.29" cy="1989.18" r="5.2"/><circle cx="1840.59" cy="1958.38" r="5.2"/><circle cx="1841.9" cy="1923.67" r="5.2"/><circle cx="1843.2" cy="1968.82" r="5.2"/><circle cx="1843.98" cy="1904.88" r="5.2"/><circle cx="1844.51" cy="1974.04" r="5.2"/><circle cx="1847.12" cy="1946.11" r="5.2"/><circle cx="1847.9" cy="1931.76" r="5.2"/><circle cx="1849.73" cy="1986.3" r="5.2"/><circle cx="1853.12" cy="1960.21" r="5.2"/><circle cx="1859.38" cy="1940.11" r="5.2"/><circle cx="1832.76" cy="1962.29" r="5.2"/><circle cx="1830.93" cy="1965.69" r="5.2"/><circle cx="1783.7" cy="1929.67" r="5.2"/></g>
<path d="M1620.6 1803.1V2130.1M1612.2 2121.5H1939" fill="none" stroke="#000" stroke-width="4.8"/>
<line x1="1612.2" y1="1805.7" x2="1620.6" y2="1805.7" stroke="#000" stroke-width="4.4"/>
<text transform="translate(1609.3 1814) scale(1 1.04)" font-size="24.3" text-anchor="end" font-weight="bold" fill="#000" stroke="#000" stroke-width="0.2">20</text>
<line x1="1612.2" y1="1884.65" x2="1620.6" y2="1884.65" stroke="#000" stroke-width="4.4"/>
<text transform="translate(1609.3 1892.95) scale(1 1.04)" font-size="24.3" text-anchor="end" font-weight="bold" fill="#000" stroke="#000" stroke-width="0.2">15</text>
<line x1="1612.2" y1="1963.6" x2="1620.6" y2="1963.6" stroke="#000" stroke-width="4.4"/>
<text transform="translate(1609.3 1971.9) scale(1 1.04)" font-size="24.3" text-anchor="end" font-weight="bold" fill="#000" stroke="#000" stroke-width="0.2">10</text>
<line x1="1612.2" y1="2042.55" x2="1620.6" y2="2042.55" stroke="#000" stroke-width="4.4"/>
<text transform="translate(1609.3 2050.85) scale(1 1.04)" font-size="24.3" text-anchor="end" font-weight="bold" fill="#000" stroke="#000" stroke-width="0.2">5</text>
<line x1="1612.2" y1="2121.5" x2="1620.6" y2="2121.5" stroke="#000" stroke-width="4.4"/>
<text transform="translate(1609.3 2129.8) scale(1 1.04)" font-size="24.3" text-anchor="end" font-weight="bold" fill="#000" stroke="#000" stroke-width="0.2">0</text>
<text transform="translate(1620.6 2156.6) scale(1 1.04)" font-size="24.3" text-anchor="middle" font-weight="bold" fill="#000" stroke="#000" stroke-width="0.2">0</text>
<line x1="1725.93" y1="2121.5" x2="1725.93" y2="2130.1" stroke="#000" stroke-width="4.4"/>
<text transform="translate(1725.93 2156.6) scale(1 1.04)" font-size="24.3" text-anchor="middle" font-weight="bold" fill="#000" stroke="#000" stroke-width="0.2">5</text>
<line x1="1831.26" y1="2121.5" x2="1831.26" y2="2130.1" stroke="#000" stroke-width="4.4"/>
<text transform="translate(1831.76 2156.6) scale(1 1.04)" font-size="24.3" text-anchor="middle" font-weight="bold" fill="#000" stroke="#000" stroke-width="0.2">10</text>
<line x1="1936.59" y1="2121.5" x2="1936.59" y2="2130.1" stroke="#000" stroke-width="4.4"/>
<text transform="translate(1937.09 2156.6) scale(1 1.04)" font-size="24.3" text-anchor="middle" font-weight="bold" fill="#000" stroke="#000" stroke-width="0.2">15</text>
<text transform="translate(1583.5 2196.8) scale(1 1.04)" font-size="25.4" stroke="#231815" stroke-width="0.45">Relative expression of miR-141-3p</text>
<text transform="translate(1565.2 1965.4) rotate(-90) scale(1 1.04)" font-size="25" text-anchor="middle" stroke="#231815" stroke-width="0.45">Relative expression of FOXC1</text>
</g>
</svg>
</body>
</html>
